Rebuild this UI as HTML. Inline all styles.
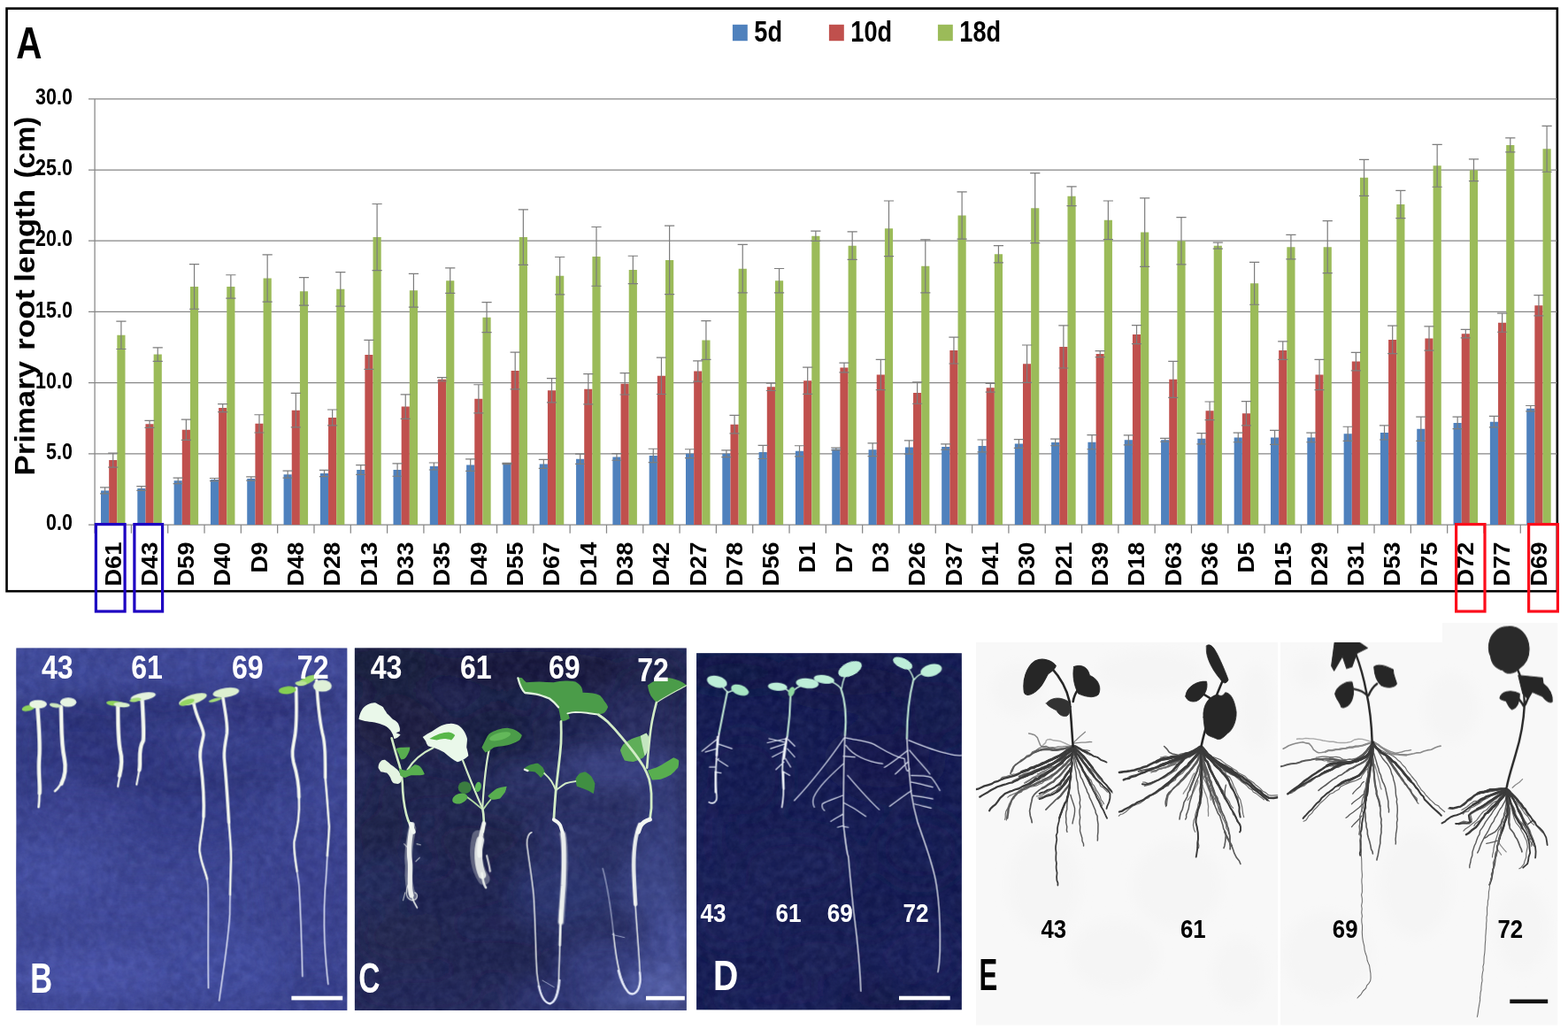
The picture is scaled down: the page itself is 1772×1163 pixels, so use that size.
<!DOCTYPE html>
<html lang="en"><head><meta charset="utf-8"><title>Figure</title>
<style>
html,body{margin:0;padding:0;background:#fff;}
body{width:1772px;height:1163px;overflow:hidden;font-family:"Liberation Sans",Arial,sans-serif;}
svg{display:block;}
</style></head>
<body>
<svg width="1772" height="1163" viewBox="0 0 1772 1163">
<rect width="1772" height="1163" fill="#fff"/>
<g id="chart" font-family="Liberation Sans, Arial, sans-serif" font-weight="bold">
<rect x="7.55" y="9.6" width="1752.3" height="658.6" fill="#fff" stroke="#000" stroke-width="2.6"/>
<path d="M100,593.10H1759.6M100,512.88H1759.6M100,432.67H1759.6M100,352.45H1759.6M100,272.23H1759.6M100,192.02H1759.6M100,111.80H1759.6M107.10,111.80V593.10M107.10,593.10v9.6M148.41,593.10v9.6M189.72,593.10v9.6M231.04,593.10v9.6M272.35,593.10v9.6M313.66,593.10v9.6M354.98,593.10v9.6M396.29,593.10v9.6M437.60,593.10v9.6M478.91,593.10v9.6M520.23,593.10v9.6M561.54,593.10v9.6M602.85,593.10v9.6M644.16,593.10v9.6M685.48,593.10v9.6M726.79,593.10v9.6M768.10,593.10v9.6M809.41,593.10v9.6M850.73,593.10v9.6M892.04,593.10v9.6M933.35,593.10v9.6M974.66,593.10v9.6M1015.98,593.10v9.6M1057.29,593.10v9.6M1098.60,593.10v9.6M1139.91,593.10v9.6M1181.22,593.10v9.6M1222.54,593.10v9.6M1263.85,593.10v9.6M1305.16,593.10v9.6M1346.47,593.10v9.6M1387.79,593.10v9.6M1429.10,593.10v9.6M1470.41,593.10v9.6M1511.72,593.10v9.6M1553.04,593.10v9.6M1594.35,593.10v9.6M1635.66,593.10v9.6M1676.97,593.10v9.6M1718.29,593.10v9.6" stroke="#878787" stroke-width="1.25" fill="none"/>
<path d="M114.00,593.10V554.44h9.17V593.10zM155.31,593.10V552.03h9.17V593.10zM196.62,593.10V543.37h9.17V593.10zM237.94,593.10V542.08h9.17V593.10zM279.25,593.10V540.96h9.17V593.10zM320.56,593.10V536.15h9.17V593.10zM361.88,593.10V535.02h9.17V593.10zM403.19,593.10V531.01h9.17V593.10zM444.50,593.10V531.01h9.17V593.10zM485.81,593.10V527.00h9.17V593.10zM527.12,593.10V525.56h9.17V593.10zM568.44,593.10V523.95h9.17V593.10zM609.75,593.10V524.43h9.17V593.10zM651.06,593.10V518.82h9.17V593.10zM692.38,593.10V516.41h9.17V593.10zM733.69,593.10V514.97h9.17V593.10zM775.00,593.10V512.72h9.17V593.10zM816.31,593.10V512.72h9.17V593.10zM857.62,593.10V510.96h9.17V593.10zM898.94,593.10V509.84h9.17V593.10zM940.25,593.10V507.43h9.17V593.10zM981.56,593.10V508.23h9.17V593.10zM1022.88,593.10V505.50h9.17V593.10zM1064.19,593.10V505.02h9.17V593.10zM1105.50,593.10V503.90h9.17V593.10zM1146.81,593.10V501.49h9.17V593.10zM1188.12,593.10V499.89h9.17V593.10zM1229.44,593.10V499.73h9.17V593.10zM1270.75,593.10V497.32h9.17V593.10zM1312.06,593.10V497.32h9.17V593.10zM1353.38,593.10V495.72h9.17V593.10zM1394.69,593.10V494.43h9.17V593.10zM1436.00,593.10V494.43h9.17V593.10zM1477.31,593.10V494.43h9.17V593.10zM1518.62,593.10V490.26h9.17V593.10zM1559.94,593.10V488.98h9.17V593.10zM1601.25,593.10V484.81h9.17V593.10zM1642.56,593.10V477.91h9.17V593.10zM1683.88,593.10V476.63h9.17V593.10zM1725.19,593.10V461.71h9.17V593.10z" fill="#4f81bd"/>
<path d="M123.17,593.10V520.10h9.17V593.10zM164.48,593.10V479.35h9.17V593.10zM205.79,593.10V485.77h9.17V593.10zM247.11,593.10V461.06h9.17V593.10zM288.42,593.10V478.87h9.17V593.10zM329.73,593.10V463.63h9.17V593.10zM371.05,593.10V471.97h9.17V593.10zM412.36,593.10V400.90h9.17V593.10zM453.67,593.10V459.62h9.17V593.10zM494.98,593.10V428.66h9.17V593.10zM536.29,593.10V450.80h9.17V593.10zM577.61,593.10V419.03h9.17V593.10zM618.92,593.10V441.33h9.17V593.10zM660.23,593.10V439.73h9.17V593.10zM701.54,593.10V433.79h9.17V593.10zM742.86,593.10V424.81h9.17V593.10zM784.17,593.10V419.51h9.17V593.10zM825.48,593.10V479.67h9.17V593.10zM866.79,593.10V437.32h9.17V593.10zM908.11,593.10V430.26h9.17V593.10zM949.42,593.10V415.50h9.17V593.10zM990.73,593.10V423.52h9.17V593.10zM1032.05,593.10V444.06h9.17V593.10zM1073.36,593.10V396.09h9.17V593.10zM1114.67,593.10V438.28h9.17V593.10zM1155.98,593.10V411.17h9.17V593.10zM1197.30,593.10V391.92h9.17V593.10zM1238.61,593.10V400.10h9.17V593.10zM1279.92,593.10V378.12h9.17V593.10zM1321.23,593.10V428.82h9.17V593.10zM1362.55,593.10V464.27h9.17V593.10zM1403.86,593.10V467.32h9.17V593.10zM1445.17,593.10V396.09h9.17V593.10zM1486.48,593.10V423.52h9.17V593.10zM1527.80,593.10V408.60h9.17V593.10zM1569.11,593.10V383.89h9.17V593.10zM1610.42,593.10V382.45h9.17V593.10zM1651.73,593.10V377.16h9.17V593.10zM1693.05,593.10V364.64h9.17V593.10zM1734.36,593.10V345.23h9.17V593.10z" fill="#c0504d"/>
<path d="M132.34,593.10V378.76h9.17V593.10zM173.65,593.10V400.58h9.17V593.10zM214.97,593.10V323.89h9.17V593.10zM256.28,593.10V323.89h9.17V593.10zM297.59,593.10V314.43h9.17V593.10zM338.90,593.10V329.35h9.17V593.10zM380.21,593.10V326.78h9.17V593.10zM421.53,593.10V268.06h9.17V593.10zM462.84,593.10V328.22h9.17V593.10zM504.15,593.10V317.15h9.17V593.10zM545.47,593.10V358.71h9.17V593.10zM586.78,593.10V268.06h9.17V593.10zM628.09,593.10V311.70h9.17V593.10zM669.40,593.10V289.88h9.17V593.10zM710.72,593.10V304.96h9.17V593.10zM752.03,593.10V293.89h9.17V593.10zM793.34,593.10V384.54h9.17V593.10zM834.65,593.10V303.68h9.17V593.10zM875.97,593.10V317.15h9.17V593.10zM917.28,593.10V266.78h9.17V593.10zM958.59,593.10V277.69h9.17V593.10zM999.90,593.10V258.28h9.17V593.10zM1041.21,593.10V300.79h9.17V593.10zM1082.53,593.10V243.52h9.17V593.10zM1123.84,593.10V287.15h9.17V593.10zM1165.15,593.10V235.17h9.17V593.10zM1206.46,593.10V221.70h9.17V593.10zM1247.78,593.10V248.81h9.17V593.10zM1289.09,593.10V262.61h9.17V593.10zM1330.40,593.10V272.23h9.17V593.10zM1371.71,593.10V277.69h9.17V593.10zM1413.03,593.10V320.36h9.17V593.10zM1454.34,593.10V279.13h9.17V593.10zM1495.65,593.10V279.13h9.17V593.10zM1536.96,593.10V200.84h9.17V593.10zM1578.28,593.10V231.00h9.17V593.10zM1619.59,593.10V187.36h9.17V593.10zM1660.90,593.10V192.18h9.17V593.10zM1702.21,593.10V163.94h9.17V593.10zM1743.53,593.10V168.27h9.17V593.10z" fill="#9bbb59"/>
<path d="M118.58,550.91V557.97M112.98,550.91h11.20M112.98,557.97h11.20M159.90,549.62V554.44M154.30,549.62h11.20M154.30,554.44h11.20M201.21,540.16V546.57M195.61,540.16h11.20M195.61,546.57h11.20M242.52,540.48V543.69M236.92,540.48h11.20M236.92,543.69h11.20M283.83,538.87V543.04M278.23,538.87h11.20M278.23,543.04h11.20M325.15,532.14V540.16M319.55,532.14h11.20M319.55,540.16h11.20M366.46,531.33V538.71M360.86,531.33h11.20M360.86,538.71h11.20M407.77,525.72V536.31M402.17,525.72h11.20M402.17,536.31h11.20M449.08,523.79V538.23M443.48,523.79h11.20M443.48,538.23h11.20M490.40,522.99V531.01M484.80,522.99h11.20M484.80,531.01h11.20M531.71,518.82V532.30M526.11,518.82h11.20M526.11,532.30h11.20M573.02,523.31V524.59M567.42,523.31h11.20M567.42,524.59h11.20M614.34,519.46V529.41M608.74,519.46h11.20M608.74,529.41h11.20M655.65,513.20V524.43M650.05,513.20h11.20M650.05,524.43h11.20M696.96,512.56V520.26M691.36,512.56h11.20M691.36,520.26h11.20M738.27,507.27V522.67M732.67,507.27h11.20M732.67,522.67h11.20M779.59,507.75V517.70M773.99,507.75h11.20M773.99,517.70h11.20M820.90,508.87V516.57M815.30,508.87h11.20M815.30,516.57h11.20M862.21,503.42V518.50M856.61,503.42h11.20M856.61,518.50h11.20M903.52,503.74V515.93M897.92,503.74h11.20M897.92,515.93h11.20M944.84,506.15V508.71M939.24,506.15h11.20M939.24,508.71h11.20M986.15,500.85V515.61M980.55,500.85h11.20M980.55,515.61h11.20M1027.46,497.80V513.20M1021.86,497.80h11.20M1021.86,513.20h11.20M1068.77,501.81V508.23M1063.17,501.81h11.20M1063.17,508.23h11.20M1110.09,497.00V510.80M1104.49,497.00h11.20M1104.49,510.80h11.20M1151.40,496.68V506.31M1145.80,496.68h11.20M1145.80,506.31h11.20M1192.71,496.04V503.74M1187.11,496.04h11.20M1187.11,503.74h11.20M1234.02,491.71V507.75M1228.42,491.71h11.20M1228.42,507.75h11.20M1275.34,491.87V502.78M1269.74,491.87h11.20M1269.74,502.78h11.20M1316.65,495.40V499.25M1311.05,495.40h11.20M1311.05,499.25h11.20M1357.96,489.62V501.81M1352.36,489.62h11.20M1352.36,501.81h11.20M1399.27,489.14V499.73M1393.67,489.14h11.20M1393.67,499.73h11.20M1440.59,486.41V502.46M1434.99,486.41h11.20M1434.99,502.46h11.20M1481.90,489.14V499.73M1476.30,489.14h11.20M1476.30,499.73h11.20M1523.21,482.24V498.28M1517.61,482.24h11.20M1517.61,498.28h11.20M1564.52,480.96V497.00M1558.92,480.96h11.20M1558.92,497.00h11.20M1605.84,471.17V498.44M1600.24,471.17h11.20M1600.24,498.44h11.20M1647.15,471.17V484.65M1641.55,471.17h11.20M1641.55,484.65h11.20M1688.46,470.37V482.88M1682.86,470.37h11.20M1682.86,482.88h11.20M1729.77,458.50V464.91M1724.17,458.50h11.20M1724.17,464.91h11.20M127.75,512.08V528.12M122.16,512.08h11.20M122.16,528.12h11.20M169.07,475.34V483.36M163.47,475.34h11.20M163.47,483.36h11.20M210.38,474.22V497.32M204.78,474.22h11.20M204.78,497.32h11.20M251.69,456.57V465.56M246.09,456.57h11.20M246.09,465.56h11.20M293.00,468.76V488.98M287.40,468.76h11.20M287.40,488.98h11.20M334.32,444.38V482.88M328.72,444.38h11.20M328.72,482.88h11.20M375.63,462.99V480.96M370.03,462.99h11.20M370.03,480.96h11.20M416.94,384.38V417.43M411.34,384.38h11.20M411.34,417.43h11.20M458.25,445.82V473.42M452.65,445.82h11.20M452.65,473.42h11.20M499.57,426.57V430.74M493.97,426.57h11.20M493.97,430.74h11.20M540.88,434.75V466.84M535.28,434.75h11.20M535.28,466.84h11.20M582.19,398.17V439.89M576.59,398.17h11.20M576.59,439.89h11.20M623.50,427.69V454.97M617.90,427.69h11.20M617.90,454.97h11.20M664.82,422.56V456.89M659.22,422.56h11.20M659.22,456.89h11.20M706.13,421.60V445.98M700.53,421.60h11.20M700.53,445.98h11.20M747.44,404.11V445.50M741.84,404.11h11.20M741.84,445.50h11.20M788.75,407.80V431.22M783.15,407.80h11.20M783.15,431.22h11.20M830.07,469.41V489.94M824.47,469.41h11.20M824.47,489.94h11.20M871.38,433.15V441.49M865.78,433.15h11.20M865.78,441.49h11.20M912.69,415.18V445.34M907.09,415.18h11.20M907.09,445.34h11.20M954.00,410.21V420.79M948.40,410.21h11.20M948.40,420.79h11.20M995.32,406.36V440.69M989.72,406.36h11.20M989.72,440.69h11.20M1036.63,431.86V456.25M1031.03,431.86h11.20M1031.03,456.25h11.20M1077.94,381.17V411.01M1072.34,381.17h11.20M1072.34,411.01h11.20M1119.26,433.47V443.09M1113.66,433.47h11.20M1113.66,443.09h11.20M1160.57,389.99V432.35M1154.97,389.99h11.20M1154.97,432.35h11.20M1201.88,367.85V415.98M1196.28,367.85h11.20M1196.28,415.98h11.20M1243.19,396.57V403.63M1237.59,396.57h11.20M1237.59,403.63h11.20M1284.51,367.69V388.55M1278.91,367.69h11.20M1278.91,388.55h11.20M1325.82,408.28V449.35M1320.22,408.28h11.20M1320.22,449.35h11.20M1367.13,454.00V474.54M1361.53,454.00h11.20M1361.53,474.54h11.20M1408.44,453.68V480.96M1402.84,453.68h11.20M1402.84,480.96h11.20M1449.76,385.82V406.36M1444.16,385.82h11.20M1444.16,406.36h11.20M1491.07,406.36V440.69M1485.47,406.36h11.20M1485.47,440.69h11.20M1532.38,398.33V418.87M1526.78,398.33h11.20M1526.78,418.87h11.20M1573.69,368.17V399.62M1568.09,368.17h11.20M1568.09,399.62h11.20M1615.01,368.81V396.09M1609.41,368.81h11.20M1609.41,396.09h11.20M1656.32,372.34V381.97M1650.72,372.34h11.20M1650.72,381.97h11.20M1697.63,354.05V375.23M1692.03,354.05h11.20M1692.03,375.23h11.20M1738.94,333.68V356.78M1733.34,333.68h11.20M1733.34,356.78h11.20M136.93,363.04V394.48M131.33,363.04h11.20M131.33,394.48h11.20M178.24,392.88V408.28M172.64,392.88h11.20M172.64,408.28h11.20M219.55,298.54V349.24M213.95,298.54h11.20M213.95,349.24h11.20M260.86,310.74V337.05M255.26,310.74h11.20M255.26,337.05h11.20M302.17,287.80V341.06M296.57,287.80h11.20M296.57,341.06h11.20M343.49,313.63V345.07M337.89,313.63h11.20M337.89,345.07h11.20M384.80,307.53V346.03M379.20,307.53h11.20M379.20,346.03h11.20M426.11,230.52V305.60M420.51,230.52h11.20M420.51,305.60h11.20M467.42,309.29V347.16M461.82,309.29h11.20M461.82,347.16h11.20M508.74,302.88V331.43M503.14,302.88h11.20M503.14,331.43h11.20M550.05,341.70V375.71M544.45,341.70h11.20M544.45,375.71h11.20M591.36,236.78V299.35M585.76,236.78h11.20M585.76,299.35h11.20M632.68,290.52V332.88M627.08,290.52h11.20M627.08,332.88h11.20M673.99,256.51V323.25M668.39,256.51h11.20M668.39,323.25h11.20M715.30,289.24V320.68M709.70,289.24h11.20M709.70,320.68h11.20M756.61,255.07V332.72M751.01,255.07h11.20M751.01,332.72h11.20M797.93,362.72V406.36M792.33,362.72h11.20M792.33,406.36h11.20M839.24,276.40V330.95M833.64,276.40h11.20M833.64,330.95h11.20M880.55,303.52V330.79M874.95,303.52h11.20M874.95,330.79h11.20M921.86,261.16V272.39M916.26,261.16h11.20M916.26,272.39h11.20M963.18,261.97V293.41M957.58,261.97h11.20M957.58,293.41h11.20M1004.49,226.99V289.56M998.89,226.99h11.20M998.89,289.56h11.20M1045.80,270.79V330.79M1040.20,270.79h11.20M1040.20,330.79h11.20M1087.11,216.88V270.15M1081.51,216.88h11.20M1081.51,270.15h11.20M1128.42,277.53V296.78M1122.83,277.53h11.20M1122.83,296.78h11.20M1169.74,195.71V274.64M1164.14,195.71h11.20M1164.14,274.64h11.20M1211.05,210.79V232.61M1205.45,210.79h11.20M1205.45,232.61h11.20M1252.36,226.99V270.63M1246.76,226.99h11.20M1246.76,270.63h11.20M1293.67,223.78V301.43M1288.08,223.78h11.20M1288.08,301.43h11.20M1334.99,245.60V298.87M1329.39,245.60h11.20M1329.39,298.87h11.20M1376.30,274.16V281.22M1370.70,274.16h11.20M1370.70,281.22h11.20M1417.61,296.46V344.27M1412.01,296.46h11.20M1412.01,344.27h11.20M1458.92,265.33V292.93M1453.33,265.33h11.20M1453.33,292.93h11.20M1500.24,249.61V308.65M1494.64,249.61h11.20M1494.64,308.65h11.20M1541.55,180.31V221.38M1535.95,180.31h11.20M1535.95,221.38h11.20M1582.86,215.28V246.72M1577.26,215.28h11.20M1577.26,246.72h11.20M1624.17,163.46V211.27M1618.58,163.46h11.20M1618.58,211.27h11.20M1665.49,179.82V204.53M1659.89,179.82h11.20M1659.89,204.53h11.20M1706.80,155.92V171.96M1701.20,155.92h11.20M1701.20,171.96h11.20M1748.11,142.28V194.26M1742.51,142.28h11.20M1742.51,194.26h11.20" stroke="#7d7d7d" stroke-width="1.2" fill="none"/>
<text transform="translate(81.90,599.20) scale(0.8600,1)" font-size="25.0" text-anchor="end" fill="#000" >0.0</text>
<text transform="translate(81.90,518.98) scale(0.8600,1)" font-size="25.0" text-anchor="end" fill="#000" >5.0</text>
<text transform="translate(81.90,438.77) scale(0.8600,1)" font-size="25.0" text-anchor="end" fill="#000" >10.0</text>
<text transform="translate(81.90,358.55) scale(0.8600,1)" font-size="25.0" text-anchor="end" fill="#000" >15.0</text>
<text transform="translate(81.90,278.33) scale(0.8600,1)" font-size="25.0" text-anchor="end" fill="#000" >20.0</text>
<text transform="translate(81.90,198.12) scale(0.8600,1)" font-size="25.0" text-anchor="end" fill="#000" >25.0</text>
<text transform="translate(81.90,117.90) scale(0.8600,1)" font-size="25.0" text-anchor="end" fill="#000" >30.0</text>
<text transform="translate(136.56,612.60) rotate(-90) scale(1.0900,1)" font-size="25.0" text-anchor="end" fill="#000" >D61</text>
<text transform="translate(177.87,612.60) rotate(-90) scale(1.0900,1)" font-size="25.0" text-anchor="end" fill="#000" >D43</text>
<text transform="translate(219.18,612.60) rotate(-90) scale(1.0900,1)" font-size="25.0" text-anchor="end" fill="#000" >D59</text>
<text transform="translate(260.49,612.60) rotate(-90) scale(1.0900,1)" font-size="25.0" text-anchor="end" fill="#000" >D40</text>
<text transform="translate(301.81,612.60) rotate(-90) scale(1.0900,1)" font-size="25.0" text-anchor="end" fill="#000" >D9</text>
<text transform="translate(343.12,612.60) rotate(-90) scale(1.0900,1)" font-size="25.0" text-anchor="end" fill="#000" >D48</text>
<text transform="translate(384.43,612.60) rotate(-90) scale(1.0900,1)" font-size="25.0" text-anchor="end" fill="#000" >D28</text>
<text transform="translate(425.74,612.60) rotate(-90) scale(1.0900,1)" font-size="25.0" text-anchor="end" fill="#000" >D13</text>
<text transform="translate(467.06,612.60) rotate(-90) scale(1.0900,1)" font-size="25.0" text-anchor="end" fill="#000" >D33</text>
<text transform="translate(508.37,612.60) rotate(-90) scale(1.0900,1)" font-size="25.0" text-anchor="end" fill="#000" >D35</text>
<text transform="translate(549.68,612.60) rotate(-90) scale(1.0900,1)" font-size="25.0" text-anchor="end" fill="#000" >D49</text>
<text transform="translate(590.99,612.60) rotate(-90) scale(1.0900,1)" font-size="25.0" text-anchor="end" fill="#000" >D55</text>
<text transform="translate(632.31,612.60) rotate(-90) scale(1.0900,1)" font-size="25.0" text-anchor="end" fill="#000" >D67</text>
<text transform="translate(673.62,612.60) rotate(-90) scale(1.0900,1)" font-size="25.0" text-anchor="end" fill="#000" >D14</text>
<text transform="translate(714.93,612.60) rotate(-90) scale(1.0900,1)" font-size="25.0" text-anchor="end" fill="#000" >D38</text>
<text transform="translate(756.24,612.60) rotate(-90) scale(1.0900,1)" font-size="25.0" text-anchor="end" fill="#000" >D42</text>
<text transform="translate(797.56,612.60) rotate(-90) scale(1.0900,1)" font-size="25.0" text-anchor="end" fill="#000" >D27</text>
<text transform="translate(838.87,612.60) rotate(-90) scale(1.0900,1)" font-size="25.0" text-anchor="end" fill="#000" >D78</text>
<text transform="translate(880.18,612.60) rotate(-90) scale(1.0900,1)" font-size="25.0" text-anchor="end" fill="#000" >D56</text>
<text transform="translate(921.49,612.60) rotate(-90) scale(1.0900,1)" font-size="25.0" text-anchor="end" fill="#000" >D1</text>
<text transform="translate(962.81,612.60) rotate(-90) scale(1.0900,1)" font-size="25.0" text-anchor="end" fill="#000" >D7</text>
<text transform="translate(1004.12,612.60) rotate(-90) scale(1.0900,1)" font-size="25.0" text-anchor="end" fill="#000" >D3</text>
<text transform="translate(1045.43,612.60) rotate(-90) scale(1.0900,1)" font-size="25.0" text-anchor="end" fill="#000" >D26</text>
<text transform="translate(1086.74,612.60) rotate(-90) scale(1.0900,1)" font-size="25.0" text-anchor="end" fill="#000" >D37</text>
<text transform="translate(1128.06,612.60) rotate(-90) scale(1.0900,1)" font-size="25.0" text-anchor="end" fill="#000" >D41</text>
<text transform="translate(1169.37,612.60) rotate(-90) scale(1.0900,1)" font-size="25.0" text-anchor="end" fill="#000" >D30</text>
<text transform="translate(1210.68,612.60) rotate(-90) scale(1.0900,1)" font-size="25.0" text-anchor="end" fill="#000" >D21</text>
<text transform="translate(1251.99,612.60) rotate(-90) scale(1.0900,1)" font-size="25.0" text-anchor="end" fill="#000" >D39</text>
<text transform="translate(1293.31,612.60) rotate(-90) scale(1.0900,1)" font-size="25.0" text-anchor="end" fill="#000" >D18</text>
<text transform="translate(1334.62,612.60) rotate(-90) scale(1.0900,1)" font-size="25.0" text-anchor="end" fill="#000" >D63</text>
<text transform="translate(1375.93,612.60) rotate(-90) scale(1.0900,1)" font-size="25.0" text-anchor="end" fill="#000" >D36</text>
<text transform="translate(1417.24,612.60) rotate(-90) scale(1.0900,1)" font-size="25.0" text-anchor="end" fill="#000" >D5</text>
<text transform="translate(1458.56,612.60) rotate(-90) scale(1.0900,1)" font-size="25.0" text-anchor="end" fill="#000" >D15</text>
<text transform="translate(1499.87,612.60) rotate(-90) scale(1.0900,1)" font-size="25.0" text-anchor="end" fill="#000" >D29</text>
<text transform="translate(1541.18,612.60) rotate(-90) scale(1.0900,1)" font-size="25.0" text-anchor="end" fill="#000" >D31</text>
<text transform="translate(1582.49,612.60) rotate(-90) scale(1.0900,1)" font-size="25.0" text-anchor="end" fill="#000" >D53</text>
<text transform="translate(1623.81,612.60) rotate(-90) scale(1.0900,1)" font-size="25.0" text-anchor="end" fill="#000" >D75</text>
<text transform="translate(1665.12,612.60) rotate(-90) scale(1.0900,1)" font-size="25.0" text-anchor="end" fill="#000" >D72</text>
<text transform="translate(1706.43,612.60) rotate(-90) scale(1.0900,1)" font-size="25.0" text-anchor="end" fill="#000" >D77</text>
<text transform="translate(1747.74,612.60) rotate(-90) scale(1.0900,1)" font-size="25.0" text-anchor="end" fill="#000" >D69</text>
<text transform="translate(38.8,535.1) rotate(-90)" font-size="31.5"><tspan x="-2.3" textLength="129.4" lengthAdjust="spacingAndGlyphs">Primary</tspan> <tspan x="139.0" textLength="68.8" lengthAdjust="spacingAndGlyphs">root</tspan> <tspan x="216.4" textLength="104.8" lengthAdjust="spacingAndGlyphs">length</tspan> <tspan x="333.6" textLength="69.8" lengthAdjust="spacingAndGlyphs">(cm)</tspan></text>
<text transform="translate(18.20,66.00) scale(0.8110,1)" font-size="49.9" text-anchor="start" fill="#000" >A</text>
<rect x="827.9" y="27.8" width="16.9" height="18.4" fill="#4f81bd"/>
<text transform="translate(852.30,46.60) scale(0.8300,1)" font-size="32.7" text-anchor="start" fill="#000" >5d</text>
<rect x="936.9" y="27.8" width="16.9" height="18.4" fill="#c0504d"/>
<text transform="translate(961.30,46.60) scale(0.8300,1)" font-size="32.7" text-anchor="start" fill="#000" >10d</text>
<rect x="1059.9" y="27.8" width="16.9" height="18.4" fill="#9bbb59"/>
<text transform="translate(1084.30,46.60) scale(0.8300,1)" font-size="32.7" text-anchor="start" fill="#000" >18d</text>
</g>
<rect x="108.4" y="592.6" width="32.7" height="98.4" fill="none" stroke="#1d00c2" stroke-width="3.2"/>
<rect x="151.9" y="592.6" width="31.7" height="98.4" fill="none" stroke="#1d00c2" stroke-width="3.2"/>
<rect x="1645.6" y="592.6" width="32.4" height="98.4" fill="none" stroke="#fc0d1b" stroke-width="3.2"/>
<rect x="1727.6" y="592.6" width="32.8" height="98.4" fill="none" stroke="#fc0d1b" stroke-width="3.2"/>
<defs>
<filter id="b1" x="-10%" y="-10%" width="120%" height="120%"><feGaussianBlur stdDeviation="0.7"/></filter>
<filter id="b2" x="-10%" y="-10%" width="120%" height="120%"><feGaussianBlur stdDeviation="1.6"/></filter>
<filter id="bz" x="-10%" y="-10%" width="120%" height="120%"><feGaussianBlur stdDeviation="3"/></filter>
<filter id="bz5" x="-10%" y="-10%" width="120%" height="120%"><feGaussianBlur stdDeviation="5"/></filter>
<filter id="bz4" x="-10%" y="-10%" width="120%" height="120%"><feGaussianBlur stdDeviation="4.2"/></filter>
<filter id="nz" x="0" y="0" width="100%" height="100%" color-interpolation-filters="sRGB"><feTurbulence type="fractalNoise" baseFrequency="0.11" numOctaves="3" seed="7" result="t"/><feColorMatrix type="matrix" values="0 0 0 0 0.75  0 0 0 0 0.8  0 0 0 0 1  1.2 1.2 1.2 0 -1.3"/></filter>
<filter id="nzd" x="0" y="0" width="100%" height="100%" color-interpolation-filters="sRGB"><feTurbulence type="fractalNoise" baseFrequency="0.09" numOctaves="3" seed="23" result="t"/><feColorMatrix type="matrix" values="0 0 0 0 0  0 0 0 0 0  0 0 0 0 0.12  1.2 1.2 1.2 0 -1.3"/></filter>
<filter id="bL" x="-30%" y="-30%" width="160%" height="160%"><feGaussianBlur stdDeviation="14"/></filter>
<filter id="bM" x="-30%" y="-30%" width="160%" height="160%"><feGaussianBlur stdDeviation="7"/></filter>
<clipPath id="cB"><rect x="18.4" y="732.4" width="373.9" height="409.5"/></clipPath>
<clipPath id="cC"><rect x="400.9" y="732.4" width="374.9" height="409.5"/></clipPath>
<clipPath id="cD"><rect x="787.1" y="738.2" width="299.7" height="403.0"/></clipPath>
<clipPath id="cE"><path d="M1102.9,726H1444.2V1158.4H1102.9zM1447,726H1630V704H1760.3V1158.4H1447z"/></clipPath>
</defs>
<g clip-path="url(#cB)">
<rect x="18" y="732" width="375" height="411" fill="#3d4696"/>
<g filter="url(#bL)">
<ellipse cx="60" cy="755" rx="60" ry="26" fill="#414b9e"/>
<ellipse cx="200" cy="758" rx="80" ry="26" fill="#404a9c"/>
<ellipse cx="330" cy="758" rx="70" ry="30" fill="#424c9f"/>
<ellipse cx="90" cy="810" rx="60" ry="22" fill="#2a3078"/>
<ellipse cx="190" cy="800" rx="60" ry="20" fill="#2b3179"/>
<ellipse cx="290" cy="800" rx="60" ry="20" fill="#2d337c"/>
<ellipse cx="360" cy="790" rx="30" ry="20" fill="#30377f"/>
<ellipse cx="120" cy="850" rx="90" ry="24" fill="#2f3680"/>
<ellipse cx="300" cy="860" rx="60" ry="30" fill="#343c8a"/>
<ellipse cx="100" cy="910" rx="80" ry="25" fill="#3c4596"/>
<ellipse cx="220" cy="930" rx="80" ry="30" fill="#363e8c"/>
<ellipse cx="60" cy="990" rx="60" ry="40" fill="#444fa4"/>
<ellipse cx="160" cy="1030" rx="90" ry="30" fill="#3f4a9c"/>
<ellipse cx="100" cy="1100" rx="100" ry="30" fill="#4853aa"/>
<ellipse cx="250" cy="1090" rx="70" ry="40" fill="#434ea2"/>
<ellipse cx="350" cy="1000" rx="50" ry="80" fill="#3a4392"/>
<ellipse cx="360" cy="1120" rx="40" ry="20" fill="#363e8a"/>
<ellipse cx="200" cy="885" rx="120" ry="14" fill="#2c3278"/>
<ellipse cx="40" cy="850" rx="30" ry="60" fill="#323a86"/>
</g>
<rect x="18" y="732" width="375" height="411" filter="url(#nz)" opacity="0.07"/>
<rect x="18" y="732" width="375" height="411" filter="url(#nzd)" opacity="0.10"/>
<g transform="translate(10,725) scale(0.220090)" fill="none" stroke-linecap="round" stroke-linejoin="round" filter="url(#bz)">
<path d="M148,345 C 155,450 163,540 156,600 C 150,680 165,760 153,850" stroke="#f3f7ee" stroke-width="12"/>
<path d="M148,345 C 155,450 163,540 156,600 C 150,680 162,730 158,780" stroke="#f3f7ee" stroke-width="20"/>
<path d="M268,335 C 272,450 268,520 285,600 C 300,680 270,740 237,768" stroke="#f3f7ee" stroke-width="12"/>
<path d="M268,335 C 272,450 268,520 285,600 C 295,650 285,700 270,730" stroke="#f3f7ee" stroke-width="20"/>
<path d="M560,335 C 562,450 560,500 572,560 C 590,620 570,680 560,745" stroke="#f3f7ee" stroke-width="10"/>
<path d="M560,335 C 562,450 560,500 572,560 C 586,610 578,650 568,690" stroke="#f3f7ee" stroke-width="20"/>
<path d="M685,300 C 690,400 695,470 690,510 C 660,560 680,620 670,660 L 656,735" stroke="#f3f7ee" stroke-width="10"/>
<path d="M685,300 C 690,400 695,470 690,510 C 660,560 680,620 670,660" stroke="#f3f7ee" stroke-width="20"/>
<path d="M950,320 C 965,400 1000,440 1000,480 C 990,540 975,560 985,620 C 995,700 1005,800 1000,900 C 990,1000 975,1050 980,1080 C 990,1150 1020,1200 1022,1250 C 1028,1350 1020,1500 1025,1780" stroke="#dfe4f6" stroke-width="7"/>
<path d="M950,320 C 965,400 1000,440 1000,480 C 990,540 975,560 985,620 C 995,700 1005,800 1000,900" stroke="#f3f7ee" stroke-width="16"/>
<path d="M1100,290 C 1110,360 1125,420 1120,470 C 1110,540 1100,560 1108,620 C 1120,750 1125,850 1130,930 C 1135,1000 1145,1080 1140,1150 C 1138,1250 1135,1330 1135,1400 C 1125,1550 1100,1700 1080,1845" stroke="#dfe4f6" stroke-width="7"/>
<path d="M1100,290 C 1110,360 1125,420 1120,470 C 1110,540 1100,560 1108,620 C 1120,750 1125,850 1130,930" stroke="#f3f7ee" stroke-width="16"/>
<path d="M1475,240 C 1478,330 1478,420 1470,480 C 1460,540 1450,570 1462,620 C 1480,680 1490,740 1490,800 C 1495,900 1480,960 1465,1030 C 1462,1100 1485,1200 1490,1250 C 1500,1400 1505,1600 1508,1720" stroke="#dfe4f6" stroke-width="7"/>
<path d="M1475,240 C 1478,330 1478,420 1470,480 C 1460,540 1450,570 1462,620 C 1480,680 1490,740 1490,800" stroke="#f3f7ee" stroke-width="17"/>
<path d="M1580,200 C 1585,300 1595,400 1610,470 C 1625,520 1625,600 1625,700 C 1635,800 1640,900 1645,950 C 1640,1050 1635,1100 1630,1200 C 1620,1300 1618,1450 1622,1550 C 1628,1650 1635,1720 1640,1760" stroke="#dfe4f6" stroke-width="7"/>
<path d="M1580,200 C 1585,300 1595,400 1610,470 C 1625,520 1625,600 1625,700" stroke="#f3f7ee" stroke-width="16"/>
<path d="M1000,900 C 990,1000 975,1050 980,1080 C 990,1150 1010,1180 1018,1220" stroke="#f3f7ee" stroke-width="11"/>
<path d="M1130,930 C 1135,1000 1145,1080 1140,1150 C 1139,1200 1137,1250 1136,1300" stroke="#f3f7ee" stroke-width="11"/>
<path d="M1490,800 C 1495,900 1480,960 1465,1030 C 1463,1080 1472,1130 1480,1180" stroke="#f3f7ee" stroke-width="11"/>
<path d="M1625,700 C 1635,800 1640,900 1645,950 C 1642,1020 1638,1060 1635,1100" stroke="#f3f7ee" stroke-width="11"/>
<ellipse cx="100" cy="342" rx="34" ry="15" transform="rotate(-12 100 342)" fill="#8fd35c" stroke="none"/>
<ellipse cx="150" cy="322" rx="45" ry="22" transform="rotate(0 150 322)" fill="#e9f5e2" stroke="none"/>
<ellipse cx="238" cy="328" rx="30" ry="11" transform="rotate(10 238 328)" fill="#cfe9bf" stroke="none"/>
<ellipse cx="305" cy="312" rx="42" ry="24" transform="rotate(0 305 312)" fill="#e6f3e2" stroke="none"/>
<ellipse cx="545" cy="318" rx="45" ry="13" transform="rotate(5 545 318)" fill="#8fd35c" stroke="none"/>
<ellipse cx="580" cy="325" rx="42" ry="13" transform="rotate(5 580 325)" fill="#d8efcc" stroke="none"/>
<ellipse cx="690" cy="283" rx="65" ry="20" transform="rotate(-10 690 283)" fill="#e4f2de" stroke="none"/>
<ellipse cx="650" cy="300" rx="30" ry="10" transform="rotate(-10 650 300)" fill="#a5dc7a" stroke="none"/>
<ellipse cx="945" cy="297" rx="75" ry="24" transform="rotate(-18 945 297)" fill="#d8f0c4" stroke="none"/>
<ellipse cx="915" cy="312" rx="40" ry="14" transform="rotate(-18 915 312)" fill="#94d662" stroke="none"/>
<ellipse cx="1115" cy="262" rx="68" ry="24" transform="rotate(-8 1115 262)" fill="#dcf0d0" stroke="none"/>
<ellipse cx="1060" cy="300" rx="35" ry="8" transform="rotate(-15 1060 300)" fill="#a5dc7a" stroke="none"/>
<ellipse cx="1430" cy="250" rx="45" ry="20" transform="rotate(-5 1430 250)" fill="#86cf52" stroke="none"/>
<ellipse cx="1530" cy="200" rx="55" ry="18" transform="rotate(-25 1530 200)" fill="#98d868" stroke="none"/>
<ellipse cx="1610" cy="228" rx="48" ry="30" transform="rotate(0 1610 228)" fill="#dff0d8" stroke="none"/>
<ellipse cx="1500" cy="215" rx="30" ry="12" transform="rotate(0 1500 215)" fill="#b8e296" stroke="none"/>
</g>
<text transform="translate(47.00,767.10) scale(0.8660,1)" font-size="37.1" text-anchor="start" fill="#fff" font-family="Liberation Sans, Arial, sans-serif" font-weight="bold" >43</text>
<text transform="translate(148.20,767.10) scale(0.8660,1)" font-size="37.1" text-anchor="start" fill="#fff" font-family="Liberation Sans, Arial, sans-serif" font-weight="bold" >61</text>
<text transform="translate(262.00,767.10) scale(0.8660,1)" font-size="37.1" text-anchor="start" fill="#fff" font-family="Liberation Sans, Arial, sans-serif" font-weight="bold" >69</text>
<text transform="translate(335.80,767.10) scale(0.8660,1)" font-size="37.1" text-anchor="start" fill="#fff" font-family="Liberation Sans, Arial, sans-serif" font-weight="bold" >72</text>
<text transform="translate(34.30,1121.50) scale(0.7110,1)" font-size="48.5" text-anchor="start" fill="#fff" font-family="Liberation Sans, Arial, sans-serif" font-weight="bold" >B</text>
<rect x="329.4" y="1125.7" width="57.8" height="4.7" fill="#fff"/>
</g>
<g clip-path="url(#cC)">
<rect x="400" y="732" width="377" height="411" fill="#232858"/>
<g filter="url(#bL)">
<ellipse cx="440" cy="750" rx="70" ry="30" fill="#171a3a"/>
<ellipse cx="600" cy="755" rx="120" ry="28" fill="#15183a"/>
<ellipse cx="740" cy="770" rx="40" ry="30" fill="#1c2048"/>
<ellipse cx="450" cy="820" rx="60" ry="40" fill="#1a1d40"/>
<ellipse cx="560" cy="830" rx="50" ry="40" fill="#191c40"/>
<ellipse cx="640" cy="820" rx="40" ry="40" fill="#1e2250"/>
<ellipse cx="720" cy="810" rx="40" ry="30" fill="#262c5e"/>
<ellipse cx="700" cy="870" rx="80" ry="25" fill="#3a4284"/>
<ellipse cx="600" cy="880" rx="50" ry="20" fill="#2c3268"/>
<ellipse cx="480" cy="890" rx="70" ry="25" fill="#1f234c"/>
<ellipse cx="430" cy="940" rx="40" ry="30" fill="#1c2048"/>
<ellipse cx="540" cy="950" rx="60" ry="30" fill="#1d214a"/>
<ellipse cx="660" cy="940" rx="60" ry="30" fill="#2a306a"/>
<ellipse cx="750" cy="930" rx="30" ry="40" fill="#343c7e"/>
<ellipse cx="430" cy="1000" rx="50" ry="30" fill="#242a5c"/>
<ellipse cx="520" cy="1010" rx="70" ry="30" fill="#1e2450"/>
<ellipse cx="640" cy="1010" rx="60" ry="40" fill="#2c346f"/>
<ellipse cx="740" cy="1000" rx="40" ry="50" fill="#3a4488"/>
<ellipse cx="460" cy="1060" rx="60" ry="30" fill="#20264f"/>
<ellipse cx="560" cy="1080" rx="70" ry="30" fill="#1f2450"/>
<ellipse cx="690" cy="1090" rx="60" ry="30" fill="#343e80"/>
<ellipse cx="470" cy="1125" rx="80" ry="20" fill="#222858"/>
<ellipse cx="640" cy="1130" rx="70" ry="20" fill="#2e3674"/>
<ellipse cx="760" cy="1060" rx="30" ry="40" fill="#44509a"/>
<ellipse cx="750" cy="1120" rx="45" ry="25" fill="#5662ac"/>
<ellipse cx="700" cy="1135" rx="40" ry="12" fill="#4a56a0"/>
</g>
<rect x="400" y="732" width="377" height="411" filter="url(#nz)" opacity="0.07"/>
<rect x="400" y="732" width="377" height="411" filter="url(#nzd)" opacity="0.10"/>
<g transform="translate(400,780) scale(0.137590)" fill="none" stroke-linecap="round" stroke-linejoin="round" filter="url(#bz5)">
<path d="M310,395 C 330,470 355,560 375,620 C 390,670 396,720 398,760 C 400,850 410,940 430,1020 C 440,1060 450,1085 462,1105" stroke="#d2ecc6" stroke-width="19"/>
<path d="M440,655 C 480,590 540,525 650,475" stroke="#d2ecc6" stroke-width="16"/>
<path d="M895,580 C 940,700 990,820 1050,960" stroke="#d2ecc6" stroke-width="16"/>
<path d="M1112,480 C 1085,600 1068,760 1056,960" stroke="#d2ecc6" stroke-width="16"/>
<path d="M930,880 C 980,915 1020,950 1050,975" stroke="#b4dca4" stroke-width="13"/>
<path d="M1122,900 C 1095,930 1075,960 1060,982" stroke="#b4dca4" stroke-width="13"/>
<path d="M1055,965 C 1068,1030 1072,1090 1060,1165" stroke="#d2ecc6" stroke-width="19"/>
<path d="M465,1100 L 490,1165" stroke="#f2f6f2" stroke-width="34"/>
<path d="M40,240 C 45,190 70,140 110,120 C 140,105 165,100 180,105 C 200,120 225,125 240,140 C 250,165 265,175 270,190 C 290,205 305,225 320,240 C 345,250 365,270 370,290 C 378,310 380,325 375,340 L 345,350 L 382,365 C 370,385 350,395 330,400 C 325,375 315,350 300,330 C 285,310 270,300 250,290 C 225,280 200,270 170,265 C 140,262 110,258 90,255 Z" fill="#eaf8ea" stroke="none"/>
<path d="M200,640 C 200,615 205,600 215,590 C 225,575 240,570 255,572 C 275,585 290,600 300,610 C 315,620 330,630 340,640 C 360,655 375,670 380,690 C 388,710 392,725 390,740 C 385,760 375,768 360,770 C 345,770 330,768 320,760 C 310,748 305,735 300,720 C 292,705 282,690 270,680 C 250,675 235,672 220,670 Z" fill="#e4f4e2" stroke="none"/>
<path d="M345,480 C 365,472 380,470 400,470 L 460,468 C 460,485 455,500 450,510 C 442,530 432,548 420,560 C 410,568 400,570 390,570 C 380,558 374,545 370,530 Z" fill="#58ae50" stroke="none"/>
<path d="M370,640 C 390,652 410,660 430,660 C 455,645 480,625 500,612 C 520,612 535,620 545,630 C 562,650 574,670 580,690 C 565,698 548,700 530,700 L 470,700 C 452,705 435,712 420,720 C 405,716 390,710 380,700 Z" fill="#58ae50" stroke="none"/>
<path d="M565,385 C 590,368 615,352 640,340 C 665,322 690,305 720,290 C 750,280 775,275 800,275 C 822,278 842,282 860,290 C 876,300 890,314 900,330 C 915,352 925,375 930,400 C 930,425 926,448 925,470 C 932,495 938,518 940,540 C 928,552 915,562 900,570 C 884,578 868,586 850,590 C 832,582 815,572 800,560 C 780,545 760,528 740,510 C 715,496 688,484 660,475 C 642,470 625,465 610,460 C 600,448 594,435 590,420 Z" fill="#eaf8ea" stroke="none"/>
<path d="M620,400 C 645,385 672,370 700,360 C 728,350 755,345 780,345 C 800,350 818,358 830,370 C 822,385 812,400 800,410 C 780,405 760,400 740,400 C 720,402 700,406 680,410 Z" fill="#58b848" stroke="none"/>
<path d="M1085,400 C 1092,385 1100,372 1110,360 C 1132,345 1155,333 1180,325 C 1208,316 1235,311 1260,310 C 1285,313 1310,320 1330,330 C 1350,342 1367,355 1380,370 C 1375,385 1368,398 1360,410 C 1342,422 1322,432 1300,440 C 1275,450 1248,456 1220,460 C 1195,462 1172,465 1150,470 C 1135,480 1122,490 1110,500 L 1080,512 C 1068,500 1058,486 1050,470 C 1062,445 1074,422 1085,400 Z" fill="#4c9c48" stroke="none"/>
<path d="M1100,870 C 1120,848 1144,828 1170,810 C 1198,800 1228,793 1255,790 C 1252,808 1247,825 1240,840 C 1228,858 1215,875 1200,890 C 1178,896 1154,900 1130,900 Z" fill="#58ae50" stroke="none"/>
<ellipse cx="910" cy="800" rx="55" ry="50" transform="rotate(0 910 800)" fill="#3a7c40" stroke="none"/>
<ellipse cx="870" cy="890" rx="65" ry="40" transform="rotate(-20 870 890)" fill="#58ae50" stroke="none"/>
<ellipse cx="1020" cy="795" rx="25" ry="42" transform="rotate(10 1020 795)" fill="#5cb858" stroke="none"/>
<ellipse cx="1200" cy="380" rx="90" ry="30" transform="rotate(-15 1200 380)" fill="#63b85a" stroke="none"/>
</g>
<g transform="translate(585,750) scale(0.163319)" fill="none" stroke-linecap="round" stroke-linejoin="round" filter="url(#bz4)">
<path d="M0,95 L 30,100 C 40,112 50,122 60,130 C 90,128 120,126 150,125 C 185,128 218,130 250,130 C 278,125 305,121 330,120 C 355,120 378,121 400,125 C 416,135 430,146 440,160 C 446,173 450,186 450,200 C 475,200 498,202 520,205 C 538,208 555,213 570,220 C 582,232 592,245 600,260 C 610,272 620,285 625,300 C 620,315 612,328 600,340 C 588,346 575,350 560,350 C 535,348 508,344 480,340 C 452,336 425,335 400,335 C 382,337 365,340 350,345 L 360,380 L 330,395 L 300,400 C 295,365 288,330 280,300 C 262,278 242,258 220,240 C 192,228 162,218 130,210 C 102,206 75,202 50,200 C 38,184 28,167 20,150 Z" fill="#4c9c48" stroke="none"/>
<path d="M900,150 C 915,138 932,128 950,120 C 982,110 1016,103 1050,100 C 1075,104 1098,110 1120,120 C 1138,128 1155,138 1170,150 C 1148,165 1125,178 1100,190 C 1072,203 1045,216 1020,230 C 1000,243 980,256 960,270 C 945,255 932,238 920,220 C 910,198 903,175 900,150 Z" fill="#4c9c48" stroke="none"/>
<path d="M45,725 C 58,715 74,706 90,700 C 107,694 124,690 140,690 C 153,698 165,708 175,720 C 182,733 187,746 190,760 L 160,790 C 148,775 135,762 120,750 C 107,747 94,745 80,745 Z" fill="#3f8f42" stroke="none"/>
<path d="M400,800 C 408,785 418,771 430,760 C 443,754 456,750 470,750 C 485,758 498,768 510,780 C 520,796 529,813 535,830 C 533,855 530,878 525,900 L 490,880 C 474,872 457,865 440,860 L 410,850 C 405,834 402,817 400,800 Z" fill="#3f8f42" stroke="none"/>
<path d="M710,600 C 715,585 722,572 730,560 C 748,545 768,531 790,520 C 810,512 830,505 850,500 L 890,480 C 900,492 907,505 910,520 C 909,548 906,575 900,600 C 892,618 882,635 870,650 C 848,662 825,672 800,680 C 780,678 760,675 740,670 C 728,648 718,625 710,600 Z" fill="#5fae58" stroke="none"/>
<path d="M850,500 L 890,480 C 900,492 907,505 910,520 C 909,548 906,575 900,600 C 895,615 888,630 880,640 C 870,600 858,550 850,500 Z" fill="#c4e6c0" stroke="none"/>
<path d="M900,740 C 920,732 940,725 960,720 C 985,708 1008,694 1030,680 C 1048,669 1064,658 1080,650 C 1094,655 1106,662 1115,670 C 1116,688 1114,705 1110,720 C 1095,738 1078,755 1060,770 C 1038,782 1015,792 990,800 C 970,803 950,805 930,805 C 918,785 908,763 900,740 Z" fill="#58ae50" stroke="none"/>
<path d="M2,100 C 15,150 30,185 50,202 C 80,205 105,208 130,212 C 165,220 195,232 220,242 C 245,260 265,280 282,302" stroke="#dff2dc" stroke-width="14"/>
<path d="M345,345 C 365,340 382,337 400,336 C 430,336 455,338 480,341 C 510,345 535,350 560,353 C 580,365 595,378 612,392" stroke="#e4f4e0" stroke-width="12"/>
<path d="M300,400 C 302,450 302,500 300,550 C 296,600 291,650 285,700 C 278,758 271,815 265,870 C 261,915 258,958 255,1000 L 250,1080" stroke="#d2ecc6" stroke-width="17"/>
<path d="M185,760 C 205,778 220,795 232,812 C 244,832 254,852 262,872" stroke="#d2ecc6" stroke-width="12"/>
<path d="M265,875 C 290,858 310,843 330,830 C 355,822 378,818 400,815" stroke="#d2ecc6" stroke-width="12"/>
<path d="M960,270 C 948,315 938,358 930,400 C 921,450 915,500 910,550 C 904,608 899,665 895,720" stroke="#d2ecc6" stroke-width="16"/>
<path d="M1170,150 C 1100,190 1020,230 962,270" stroke="#cfeac4" stroke-width="7"/>
<path d="M560,355 C 580,368 600,383 620,400 C 655,435 688,472 720,510 C 748,543 775,577 800,610 C 825,642 848,676 870,710 C 886,740 900,770 910,800 C 918,833 923,867 925,900 L 925,1000 L 915,1080" stroke="#d2ecc6" stroke-width="17"/>
<path d="M250,1080 C 270,1090 285,1100 295,1120 L 310,1165" stroke="#f2f6f2" stroke-width="24"/>
<path d="M915,1078 C 890,1085 865,1100 850,1125 L 835,1165" stroke="#f2f6f2" stroke-width="30"/>
<path d="M48,733 L 70,742" stroke="#eaf6e8" stroke-width="14"/>
</g>
<g transform="translate(395,725) scale(0.220090)" fill="none" stroke-linecap="round" stroke-linejoin="round" filter="url(#bz)">
<path d="M322,940 C 310,1000 302,1080 310,1130 C 315,1200 302,1260 318,1305" stroke="#f2f6f2" stroke-width="24" opacity="0.95"/>
<path d="M322,960 C 305,1040 298,1100 305,1150 C 300,1220 305,1270 325,1310" stroke="#f2f6f2" stroke-width="40" opacity="0.35"/>
<path d="M318,1300 C 325,1330 335,1350 347,1368" stroke="#f2f6f2" stroke-width="8" opacity="0.9"/>
<path d="M300,1250 C 285,1290 290,1320 320,1330 C 350,1330 355,1300 335,1290" stroke="#f2f6f2" stroke-width="6" opacity="0.8"/>
<path d="M280,1040 L 300,1060 M345,1040 L 365,1045 M340,1130 L 360,1110 M285,1290 L 275,1330" stroke="#f2f6f2" stroke-width="5" opacity="0.7"/>
<path d="M690,935 C 676,990 662,1040 668,1100" stroke="#f2f6f2" stroke-width="22" opacity="0.95"/>
<path d="M672,1020 C 655,1080 660,1150 682,1200" stroke="#f2f6f2" stroke-width="40" opacity="0.85"/>
<path d="M660,1000 C 640,1080 650,1160 690,1220" stroke="#f2f6f2" stroke-width="62" opacity="0.3"/>
<path d="M680,1190 C 685,1230 690,1250 700,1264" stroke="#f2f6f2" stroke-width="12" opacity="0.9"/>
<path d="M705,1100 C 712,1130 718,1150 722,1180" stroke="#f2f6f2" stroke-width="10" opacity="0.8"/>
<path d="M1095,990 C 1105,1060 1102,1150 1098,1250 C 1092,1330 1088,1380 1085,1440" stroke="#f2f6f2" stroke-width="24" opacity="0.95"/>
<path d="M1095,990 C 1108,1060 1106,1150 1100,1250 C 1094,1330 1090,1380 1086,1440" stroke="#f2f6f2" stroke-width="36" opacity="0.3"/>
<path d="M1085,1420 C 1080,1500 1080,1600 1075,1700 C 1075,1780 1060,1850 1030,1860 C 990,1855 970,1780 962,1700 C 955,1600 955,1450 945,1300 C 935,1200 920,1120 912,1050 C 908,1010 920,985 935,980" stroke="#f2f6f2" stroke-width="7" opacity="0.95"/>
<path d="M1085,1380 C 1083,1450 1082,1500 1080,1560" stroke="#f2f6f2" stroke-width="13" opacity="0.9"/>
<path d="M1490,940 C 1465,1000 1455,1080 1460,1200 C 1462,1250 1465,1300 1468,1350" stroke="#f2f6f2" stroke-width="20" opacity="0.95"/>
<path d="M1466,1330 C 1470,1400 1478,1500 1485,1600 C 1490,1680 1495,1720 1490,1760 C 1480,1810 1450,1820 1430,1800 C 1390,1750 1370,1650 1355,1500" stroke="#f2f6f2" stroke-width="7" opacity="0.95"/>
<path d="M1355,1500 C 1345,1400 1330,1280 1300,1165" stroke="#cfd6ee" stroke-width="5" opacity="0.8"/>
<path d="M1490,1700 C 1495,1730 1495,1745 1490,1760 C 1480,1810 1450,1820 1430,1800 C 1405,1770 1390,1730 1380,1690" stroke="#e4e9fa" stroke-width="11" opacity="0.95"/>
<path d="M1078,1740 C 1074,1800 1060,1850 1030,1860 C 1000,1856 982,1820 972,1770" stroke="#e4e9fa" stroke-width="11" opacity="0.95"/>
<path d="M1350,1505 L1412,1520" stroke="#c8d0e8" stroke-width="4" opacity="0.8"/>
<path d="M990,1740 L1050,1775" stroke="#c8d0e8" stroke-width="4" opacity="0.8"/>
</g>
<text transform="translate(418.70,767.10) scale(0.8660,1)" font-size="37.1" text-anchor="start" fill="#fff" font-family="Liberation Sans, Arial, sans-serif" font-weight="bold" >43</text>
<text transform="translate(519.90,767.10) scale(0.8660,1)" font-size="37.1" text-anchor="start" fill="#fff" font-family="Liberation Sans, Arial, sans-serif" font-weight="bold" >61</text>
<text transform="translate(619.90,767.10) scale(0.8660,1)" font-size="37.1" text-anchor="start" fill="#fff" font-family="Liberation Sans, Arial, sans-serif" font-weight="bold" >69</text>
<text transform="translate(720.20,769.50) scale(0.8660,1)" font-size="37.1" text-anchor="start" fill="#fff" font-family="Liberation Sans, Arial, sans-serif" font-weight="bold" >72</text>
<text transform="translate(405.30,1121.90) scale(0.6850,1)" font-size="49.0" text-anchor="start" fill="#fff" font-family="Liberation Sans, Arial, sans-serif" font-weight="bold" >C</text>
<rect x="730.0" y="1125.8" width="43.8" height="4.6" fill="#fff"/>
</g>
<g clip-path="url(#cD)">
<rect x="786" y="737" width="302" height="406" fill="#171d5a"/>
<g filter="url(#bL)">
<ellipse cx="830" cy="760" rx="60" ry="20" fill="#11154a"/>
<ellipse cx="960" cy="770" rx="80" ry="25" fill="#12174e"/>
<ellipse cx="1060" cy="800" rx="40" ry="40" fill="#151a55"/>
<ellipse cx="840" cy="880" rx="50" ry="50" fill="#171d5a"/>
<ellipse cx="1000" cy="860" rx="60" ry="40" fill="#141952"/>
<ellipse cx="900" cy="980" rx="70" ry="40" fill="#1a2162"/>
<ellipse cx="1040" cy="960" rx="50" ry="40" fill="#181e5c"/>
<ellipse cx="830" cy="1040" rx="50" ry="40" fill="#1b2264"/>
<ellipse cx="930" cy="1080" rx="60" ry="30" fill="#1a2060"/>
<ellipse cx="1040" cy="1080" rx="50" ry="40" fill="#1d2466"/>
<ellipse cx="880" cy="1130" rx="80" ry="20" fill="#1c2364"/>
<ellipse cx="1000" cy="1130" rx="50" ry="20" fill="#151a52"/>
<ellipse cx="800" cy="950" rx="20" ry="60" fill="#1c2364"/>
</g>
<rect id="dkD" x="786" y="737" width="302" height="406" fill="#0c1230" opacity="0.2"/>
<rect x="786" y="737" width="302" height="405" filter="url(#nz)" opacity="0.07"/>
<rect x="786" y="737" width="302" height="405" filter="url(#nzd)" opacity="0.10"/>
<g transform="translate(780,725) scale(0.189125)" fill="none" stroke-linecap="round" stroke-linejoin="round" filter="url(#bz)">
<path d="M222,300 C 205,380 190,460 172,550" stroke="#c4ecd8" stroke-width="11"/>
<path d="M222,300 C 200,280 190,265 175,250" stroke="#c4ecd8" stroke-width="8"/>
<path d="M225,305 C 240,295 255,290 275,290" stroke="#c4ecd8" stroke-width="8"/>
<path d="M600,310 C 598,400 592,480 580,570" stroke="#c4ecd8" stroke-width="11"/>
<path d="M600,310 C 585,290 570,280 545,272" stroke="#c4ecd8" stroke-width="8"/>
<path d="M603,310 C 620,285 650,265 690,255" stroke="#c4ecd8" stroke-width="8"/>
<path d="M900,280 C 925,350 935,450 925,560" stroke="#c4ecd8" stroke-width="11"/>
<path d="M900,280 C 880,255 850,240 820,232" stroke="#c4ecd8" stroke-width="8"/>
<path d="M905,280 C 910,240 925,200 945,175" stroke="#c4ecd8" stroke-width="8"/>
<path d="M1335,225 C 1310,320 1295,450 1295,580" stroke="#c4ecd8" stroke-width="11"/>
<path d="M1335,225 C 1325,190 1305,160 1280,140" stroke="#c4ecd8" stroke-width="8"/>
<path d="M1338,228 C 1355,205 1380,190 1410,180" stroke="#c4ecd8" stroke-width="8"/>
<path d="M172,550 C 160,650 150,760 152,850 C 153,900 165,930 155,950 C 145,970 125,968 112,960" stroke="#eef2f8" stroke-width="9"/>
<path d="M580,570 C 555,650 545,760 555,850 C 560,900 555,950 548,990" stroke="#eef2f8" stroke-width="9"/>
<path d="M925,560 C 918,700 915,900 915,1084 C 925,1180 940,1280 945,1284 C 955,1400 965,1500 975,1600 C 990,1720 1010,1850 1020,2090" stroke="#eef2f8" stroke-width="7"/>
<path d="M1295,580 C 1300,700 1310,800 1320,900 C 1335,1000 1350,1050 1360,1084 C 1400,1200 1440,1300 1465,1420 C 1490,1550 1495,1700 1492,1850 C 1490,1920 1485,1950 1480,1975" stroke="#eef2f8" stroke-width="7"/>
<path d="M165,580 L70,655 M160,610 L250,640 M158,640 L90,660 M155,700 L225,745 M152,750 L115,750 M152,780 L185,785 M155,720 L170,700 M575,580 L460,605 M572,610 L480,640 M568,650 L490,690 M560,720 L512,765 M585,585 L625,625 M580,640 L625,690 M570,700 L600,750 M560,780 L595,800 M560,600 L470,580 M920,575 C 850,680 720,850 622,950 M930,575 C 990,590 1050,590 1100,615 C 1160,650 1220,690 1280,700 M930,620 C 970,680 1060,720 1150,730 M915,730 C 850,790 770,860 738,930 C 730,960 735,980 742,990 M940,800 C 1000,870 1070,950 1130,1005 M910,920 C 860,940 810,955 790,970 C 785,985 790,1000 802,1010 M920,965 C 960,985 1010,1015 1050,1045 M915,1030 C 890,1045 860,1060 840,1075 M915,1100 L880,1110 M915,1105 L945,1110 M915,685 L985,690 M1305,590 C 1380,620 1450,650 1520,665 C 1560,675 1590,685 1622,680 M1300,650 C 1250,690 1200,730 1160,752 M1300,720 C 1270,750 1245,775 1225,792 M1310,650 C 1350,700 1400,750 1432,792 M1320,800 C 1370,800 1410,800 1440,812 C 1465,840 1480,870 1492,890 M1320,840 C 1370,850 1410,860 1450,870 M1322,890 C 1280,920 1230,955 1192,985 M1330,920 C 1370,925 1410,932 1450,940 M1340,970 C 1375,980 1410,988 1440,996 M1310,760 C 1300,780 1290,790 1280,700" stroke="#d8deee" stroke-width="6.5"/>
<path d="M152,780 L152,900 M555,780 L558,880 M575,580 L560,700 M165,570 L158,680" stroke="#eef2f8" stroke-width="13"/>
<ellipse cx="160" cy="240" rx="62" ry="34" transform="rotate(15 160 240)" fill="#bdeed8" stroke="none"/>
<ellipse cx="297" cy="290" rx="55" ry="30" transform="rotate(20 297 290)" fill="#a6e6c4" stroke="none"/>
<ellipse cx="522" cy="270" rx="58" ry="24" transform="rotate(5 522 270)" fill="#bdeed8" stroke="none"/>
<ellipse cx="700" cy="250" rx="68" ry="30" transform="rotate(5 700 250)" fill="#bdeed8" stroke="none"/>
<ellipse cx="605" cy="300" rx="18" ry="30" transform="rotate(20 605 300)" fill="#8fd6a0" stroke="none"/>
<ellipse cx="800" cy="226" rx="62" ry="25" transform="rotate(8 800 226)" fill="#bdeed8" stroke="none"/>
<ellipse cx="955" cy="165" rx="75" ry="40" transform="rotate(-25 955 165)" fill="#bdeed8" stroke="none"/>
<ellipse cx="1270" cy="130" rx="62" ry="30" transform="rotate(25 1270 130)" fill="#bdeed8" stroke="none"/>
<ellipse cx="1440" cy="172" rx="65" ry="36" transform="rotate(-15 1440 172)" fill="#bdeed8" stroke="none"/>
</g>
<text transform="translate(791.40,1041.90) scale(0.8950,1)" font-size="29.2" text-anchor="start" fill="#fff" font-family="Liberation Sans, Arial, sans-serif" font-weight="bold" >43</text>
<text transform="translate(876.40,1041.90) scale(0.8950,1)" font-size="29.2" text-anchor="start" fill="#fff" font-family="Liberation Sans, Arial, sans-serif" font-weight="bold" >61</text>
<text transform="translate(934.80,1041.90) scale(0.8950,1)" font-size="29.2" text-anchor="start" fill="#fff" font-family="Liberation Sans, Arial, sans-serif" font-weight="bold" >69</text>
<text transform="translate(1020.60,1041.90) scale(0.8950,1)" font-size="29.2" text-anchor="start" fill="#fff" font-family="Liberation Sans, Arial, sans-serif" font-weight="bold" >72</text>
<text transform="translate(805.90,1118.80) scale(0.8120,1)" font-size="48.2" text-anchor="start" fill="#fff" font-family="Liberation Sans, Arial, sans-serif" font-weight="bold" >D</text>
<rect x="1016" y="1125.7" width="57.7" height="4.6" fill="#fff"/>
</g>
<g clip-path="url(#cE)">
<rect x="1100" y="700" width="665" height="462" fill="#f8f8f8"/>
<g filter="url(#bM)" fill="#f5f5f5">
<ellipse cx="1180" cy="1000" rx="40" ry="60"/>
<ellipse cx="1260" cy="1080" rx="50" ry="40"/>
<ellipse cx="1330" cy="1000" rx="50" ry="50"/>
<ellipse cx="1400" cy="1100" rx="30" ry="40"/>
<ellipse cx="1500" cy="1080" rx="50" ry="50"/>
<ellipse cx="1600" cy="1000" rx="40" ry="60"/>
<ellipse cx="1150" cy="780" rx="30" ry="30"/>
<ellipse cx="1300" cy="760" rx="60" ry="25"/>
<ellipse cx="1420" cy="800" rx="20" ry="50"/>
<ellipse cx="1640" cy="800" rx="30" ry="40"/>
<ellipse cx="1720" cy="1050" rx="30" ry="50"/>
<ellipse cx="1480" cy="760" rx="20" ry="20"/>
</g>
<g filter="url(#b1)" stroke-linecap="round" stroke-linejoin="round" fill="none">
<path d="M1211.5,843.2 1208.6,842.4 1203.5,840.0 1198.5,837.8 1194.8,837.3 1190.6,836.8 1186.7,835.5 1183.9,835.9 1182.3,837.0 1181.7,839.4 1179.2,841.6 1177.1,844.1" stroke="#a8a8a8" stroke-width="1.4" fill="none"/>
<path d="M1211.0,842.8 1209.0,843.3 1205.2,843.4 1201.0,843.8 1195.9,844.0 1192.3,844.9 1189.2,844.8 1184.6,845.6 1180.9,845.0 1178.0,844.5 1175.6,842.0 1173.8,837.4 1172.3,833.6 1169.3,830.8 1165.4,829.5 1162.6,829.0" stroke="#8a8a8a" stroke-width="1.5" fill="none"/>
<path d="M1201.1,862.3 1198.9,863.7 1195.8,865.8 1191.2,867.5 1187.6,869.9 1184.7,872.0 1180.0,873.5 1176.0,875.0 1172.7,876.3 1168.4,878.5 1164.4,880.9 1160.0,883.6 1157.8,885.0" stroke="#8a8a8a" stroke-width="1.8" fill="none"/>
<path d="M1201.1,862.3 1198.9,863.7 1195.8,865.8 1191.2,867.5 1187.6,869.9 1184.7,872.0 1180.0,873.5" stroke="#8a8a8a" stroke-width="2.43" fill="none"/>
<path d="M1213.2,839.4 1216.2,836.4 1220.6,832.3 1223.8,829.5 1226.4,827.2M1213.3,840.1 1217.2,839.7 1222.5,839.2 1226.5,839.1 1231.2,838.5 1233.7,838.7" stroke="#8a8a8a" stroke-width="1.3" fill="none"/>
<path d="M1211.4,843.7 1207.5,844.5 1204.5,845.7 1198.7,846.2 1193.7,846.9 1190.1,845.3 1186.4,845.2 1182.1,843.4 1178.3,843.8 1174.1,845.8 1170.4,848.3 1166.7,849.9 1164.8,852.4 1162.5,854.2M1210.7,843.8 1209.1,844.5 1204.5,845.7 1199.3,845.9 1195.2,846.3 1191.3,846.9 1186.3,847.3 1182.5,846.6 1179.0,847.2 1175.2,848.5 1171.4,849.0 1167.4,851.0 1165.3,852.6 1160.6,854.0 1157.6,857.1 1153.9,859.0 1150.1,862.8 1147.3,864.0 1145.1,869.1 1143.8,872.2M1211.4,844.8 1209.0,846.2 1206.5,848.4 1203.3,850.0 1200.3,852.6 1196.0,855.6 1193.1,856.6 1189.4,858.5 1185.9,860.3 1181.4,861.9 1178.2,864.3 1174.6,864.4 1170.8,866.4 1168.8,868.6 1164.7,868.7 1160.1,870.3 1157.0,872.3 1153.3,873.7 1149.5,874.8 1144.5,875.2 1140.4,876.5 1137.4,877.6 1133.0,878.3 1131.2,879.7M1210.8,846.0 1209.0,847.1 1206.4,848.7 1203.3,851.2 1198.7,852.2 1194.8,855.6 1191.9,857.1 1187.4,858.8 1185.1,860.6 1179.9,862.9 1176.3,863.7 1173.9,865.8 1169.9,867.0 1166.1,868.5 1162.1,869.5 1156.9,872.3 1153.8,873.2 1150.8,873.8 1147.7,875.1M1211.3,847.5 1209.5,848.8 1207.2,851.1 1203.3,854.2 1198.8,855.6 1196.0,859.0 1192.1,861.8 1189.2,862.8 1184.7,863.6 1181.7,866.4 1177.8,866.8 1175.1,868.4 1171.5,870.7 1168.6,871.2 1164.8,873.2 1161.6,873.9 1157.5,876.2 1153.6,879.0 1150.2,879.9 1146.0,881.9 1144.0,883.0M1211.5,848.0 1209.5,849.5 1207.0,851.7 1204.3,854.1 1200.0,855.8 1197.3,859.3 1192.8,860.7 1189.9,863.2 1186.5,865.7 1184.0,867.2 1179.3,868.5 1177.0,870.4 1172.0,870.6 1170.0,872.9 1166.4,873.8 1163.0,874.7 1158.1,876.9 1153.6,880.0 1150.0,881.5 1147.6,883.1 1144.4,883.4M1211.8,851.9 1209.7,852.5 1206.9,854.9 1205.1,857.2 1201.8,860.2 1198.8,863.5 1195.5,865.6 1193.5,868.5 1190.4,870.2 1187.1,872.5 1184.1,874.1 1180.5,877.7 1177.2,879.3 1173.7,881.5 1171.0,882.7 1167.7,883.9 1163.7,886.2 1161.4,888.1 1158.6,890.0 1156.0,892.3 1153.6,894.9 1149.5,895.5 1144.6,897.7 1140.9,899.4 1138.8,901.1M1211.2,851.7 1210.2,853.1 1206.6,854.5 1204.0,856.9 1201.7,859.1 1198.2,862.9 1194.4,865.7 1192.0,868.2 1188.8,870.2 1184.8,871.5 1182.0,874.5 1178.5,875.7 1174.8,879.0 1172.0,880.0 1169.1,882.3 1167.3,884.6 1162.8,887.0 1158.3,888.9 1154.2,889.7 1152.1,891.4 1149.5,892.3M1211.0,855.9 1210.4,858.3 1207.3,860.7 1204.9,862.6 1200.9,865.6 1198.7,868.9 1194.9,871.6 1192.3,873.6 1189.6,876.1 1186.4,877.9 1182.8,879.4 1178.3,881.0 1175.9,883.8 1172.1,884.6 1169.4,887.2 1165.0,887.1 1160.8,889.6 1158.8,890.5 1155.1,891.6 1152.6,893.2 1149.2,895.8 1146.6,898.9 1144.1,902.5 1142.5,905.1 1140.5,908.7 1139.0,913.1 1136.8,917.1 1136.2,920.1 1136.2,923.8 1135.7,926.3M1212.1,855.9 1209.7,858.1 1208.2,860.0 1205.6,863.5 1202.5,865.7 1199.5,868.9 1195.6,871.9 1193.3,874.0 1190.6,876.7 1187.6,879.8 1184.8,881.2 1180.5,882.6 1177.5,885.4 1175.0,885.9 1171.4,887.9 1166.6,889.0 1164.0,889.5 1160.5,891.6 1156.0,893.1 1154.3,895.2 1150.1,896.7 1147.1,900.1 1146.1,902.1 1143.0,905.2 1141.9,908.4 1140.2,911.9 1139.0,915.6 1138.1,920.4 1137.6,924.3 1137.4,927.0M1209.6,868.7 1209.0,871.4 1205.9,874.9 1204.0,878.2 1200.8,882.0 1196.6,885.3 1193.0,888.6 1191.1,890.5M1210.7,868.3 1208.0,870.5 1205.8,874.6 1203.2,878.3 1200.3,881.9 1198.7,885.3 1196.0,887.1 1192.7,889.1 1189.2,891.7 1186.7,893.2 1181.4,896.2 1178.1,898.2 1174.7,899.5 1171.3,900.0M1208.5,878.6 1207.5,880.6 1205.7,883.7 1202.9,887.3 1199.9,889.9 1197.7,893.6 1194.6,895.3 1190.7,897.7 1188.0,898.5M1208.6,877.1 1206.9,880.1 1203.1,882.8 1201.0,887.5 1197.1,889.5 1193.9,892.9 1190.8,894.8 1187.5,897.0 1184.6,897.6 1180.1,899.7 1176.5,900.9 1173.1,902.0M1203.8,855.7 1201.0,858.1 1197.5,859.5 1194.1,861.8 1190.0,863.6 1187.3,866.9 1183.3,867.7 1180.0,869.4 1175.9,869.6 1172.3,870.7 1169.0,872.1 1165.8,873.6 1161.0,876.9 1158.2,877.7 1155.0,879.8M1202.9,856.0 1201.8,856.4 1198.3,857.8 1195.0,860.3 1191.3,861.4 1187.8,863.9 1184.3,864.7 1179.6,866.3 1176.2,869.0 1172.8,870.8 1170.9,872.2 1166.8,872.2 1162.7,875.0 1158.7,875.5 1155.5,878.1 1152.6,878.4M1201.4,862.5 1198.8,863.8 1196.6,865.2 1191.8,867.3 1188.9,869.3 1185.9,871.2 1181.5,872.7 1178.2,874.3 1175.7,876.6 1172.0,877.8 1167.3,879.1 1164.3,881.8 1161.1,883.6 1158.9,884.7M1201.4,862.4 1198.8,863.6 1195.6,865.8 1190.8,866.3 1186.1,868.1 1182.4,870.2 1178.5,871.9 1174.3,874.2 1172.3,874.8M1212.4,843.4 1214.6,843.9 1219.7,846.4 1222.6,847.7 1228.2,847.8 1231.6,848.5M1212.7,842.9 1214.9,843.6 1219.9,846.4 1223.2,848.7 1226.3,850.5 1229.1,852.5 1232.3,853.3M1212.1,844.1 1214.6,846.8 1219.0,848.7 1222.4,852.4 1225.2,854.5 1227.5,857.6 1228.6,861.9 1231.6,864.2 1233.0,867.6 1235.8,870.5 1238.6,874.1 1241.1,878.9 1242.8,880.7M1212.4,843.7 1215.1,846.6 1217.7,848.9 1220.4,853.3 1224.7,857.3 1226.4,859.2 1228.9,861.8 1230.8,864.7 1233.8,867.2 1236.4,870.1 1238.1,873.3 1240.7,876.4 1242.1,878.4 1244.9,882.7 1247.5,884.2 1250.9,887.4 1253.0,892.2 1254.7,893.7 1257.2,896.2M1213.0,845.2 1214.1,847.3 1215.6,850.3 1218.8,853.9 1221.4,858.0 1223.5,861.6 1225.3,863.8 1227.7,867.5 1229.7,870.7 1231.5,873.1 1234.0,875.7 1236.0,878.3 1238.4,881.5 1242.0,884.7 1243.9,888.7 1246.8,890.3 1250.0,893.6 1251.4,895.2M1212.5,845.6 1215.1,848.6 1216.2,851.4 1219.0,854.6 1223.0,857.2 1224.7,861.0 1227.8,864.6 1229.9,867.7 1232.9,869.6 1236.7,873.0 1238.5,874.9 1240.1,877.4M1212.2,847.3 1214.0,849.0 1215.6,853.0 1216.8,856.6 1218.1,859.7 1221.0,864.0 1221.6,866.1 1224.3,870.7 1225.3,873.2 1228.3,876.3 1230.7,879.2 1231.3,882.7 1233.2,886.2 1234.9,889.5 1237.5,893.5 1239.5,897.9 1241.7,901.4 1243.2,905.2 1245.2,909.1 1245.6,910.9M1211.8,847.2 1214.2,849.2 1214.3,853.5 1216.1,856.5 1217.9,860.3 1221.1,863.4 1222.8,867.9 1223.3,870.0 1226.8,874.1 1227.9,877.1 1229.7,878.9 1233.0,881.7 1234.4,885.8 1236.3,887.9 1238.8,892.6 1240.7,895.6 1243.2,899.7 1244.3,903.9 1246.7,906.9 1247.5,908.7" stroke="#6e6e6e" stroke-width="1.2" fill="none"/>
<path d="M1211.0,844.2 1208.7,844.9 1205.7,845.4 1201.8,846.4 1197.2,847.2 1194.0,847.7 1190.0,847.8 1185.3,846.8 1180.9,847.0 1177.3,847.2 1173.6,848.3 1169.9,850.0 1166.4,852.1 1163.6,854.3 1160.0,855.7 1156.8,858.3 1153.7,860.5 1150.6,862.3 1148.3,864.1 1145.5,866.4 1143.2,870.8 1142.1,874.2M1211.6,856.5 1209.0,858.5 1207.1,860.3 1203.9,864.3 1199.9,867.7 1196.8,870.3 1194.1,873.2 1191.1,875.1 1187.9,876.9 1184.8,879.0 1181.5,880.6 1178.6,882.3 1175.1,883.6 1171.9,885.2 1167.6,887.3 1164.0,888.6 1160.5,890.1 1157.0,891.4 1153.8,893.2 1150.6,895.7 1148.5,898.1 1145.4,900.7 1143.5,904.0 1142.6,907.0 1141.3,910.3 1139.9,914.3 1139.5,918.3 1138.9,922.1 1138.5,924.8" stroke="#5a5a5a" stroke-width="1.8" fill="none"/>
<path d="M1211.0,844.2 1208.7,844.9 1205.7,845.4 1201.8,846.4 1197.2,847.2 1194.0,847.7 1190.0,847.8 1185.3,846.8 1180.9,847.0 1177.3,847.2 1173.6,848.3 1169.9,850.0M1211.6,856.5 1209.0,858.5 1207.1,860.3 1203.9,864.3 1199.9,867.7 1196.8,870.3 1194.1,873.2 1191.1,875.1 1187.9,876.9 1184.8,879.0 1181.5,880.6 1178.6,882.3 1175.1,883.6 1171.9,885.2 1167.6,887.3" stroke="#5a5a5a" stroke-width="2.43" fill="none"/>
<path d="M1210.5,861.0 1209.6,863.0 1206.9,865.4 1203.9,869.3 1201.8,871.8 1198.9,875.4 1196.7,877.6 1193.0,880.4 1190.5,883.4 1187.7,884.7 1184.2,887.0 1180.9,889.4 1177.4,891.1 1174.0,893.3 1171.5,895.4 1168.7,898.2 1166.7,901.3 1165.9,905.5 1164.9,909.5 1164.4,912.7 1163.6,916.4 1164.3,921.9 1165.7,926.6 1166.2,929.6M1208.2,887.3 1206.4,889.5 1203.6,892.9 1201.0,896.3 1198.7,899.3 1195.4,902.3 1193.1,903.9 1190.2,906.9 1186.8,910.1 1184.1,912.8 1181.9,915.1" stroke="#5a5a5a" stroke-width="1.7" fill="none"/>
<path d="M1210.5,861.0 1209.6,863.0 1206.9,865.4 1203.9,869.3 1201.8,871.8 1198.9,875.4 1196.7,877.6 1193.0,880.4 1190.5,883.4 1187.7,884.7 1184.2,887.0 1180.9,889.4 1177.4,891.1M1208.2,887.3 1206.4,889.5 1203.6,892.9 1201.0,896.3 1198.7,899.3 1195.4,902.3" stroke="#5a5a5a" stroke-width="2.29" fill="none"/>
<path d="M1203.9,855.8 1201.9,857.2 1198.4,858.9 1194.6,860.3 1191.2,862.2 1187.8,864.2 1184.2,865.5 1180.5,867.4 1177.7,868.3 1174.3,869.4 1170.9,870.4 1167.5,871.7 1163.4,873.7 1158.2,874.8 1154.5,876.4 1151.8,877.8" stroke="#5a5a5a" stroke-width="2.2" fill="none"/>
<path d="M1203.9,855.8 1201.9,857.2 1198.4,858.9 1194.6,860.3 1191.2,862.2 1187.8,864.2 1184.2,865.5 1180.5,867.4" stroke="#5a5a5a" stroke-width="2.97" fill="none"/>
<path d="M1212.3,849.8 1213.2,852.0 1214.2,855.0 1215.4,859.1 1216.5,863.3 1217.5,867.5 1219.2,870.5 1220.3,874.1 1221.3,878.2 1223.3,881.4 1224.6,884.8 1225.9,888.0 1228.1,892.6 1228.5,894.7 1230.6,898.3 1231.2,901.2 1233.1,904.8 1234.6,908.3 1236.4,912.5 1237.9,916.0 1238.3,918.8 1240.1,922.4 1240.2,926.4 1241.0,931.7 1240.9,936.1 1240.9,940.5 1240.4,944.5 1240.5,948.0 1240.3,950.0" stroke="#5a5a5a" stroke-width="1.5" fill="none"/>
<path d="M1212.6,852.2 1212.3,854.5 1213.4,857.4 1214.1,861.1 1214.4,865.0 1215.1,868.9 1216.0,873.1 1216.3,876.2 1216.5,879.8 1217.9,884.8 1218.1,888.5 1218.4,892.4 1219.1,896.3 1220.2,900.3 1220.7,904.2 1220.1,907.5 1220.9,911.8 1220.0,915.8 1220.0,919.0 1220.7,923.9 1220.1,927.6 1220.0,930.7 1220.7,934.2 1220.5,939.1 1221.7,943.3 1222.9,947.3 1223.0,950.4 1224.5,953.8 1224.6,956.1M1208.4,891.9 1208.5,894.9 1207.6,898.9 1206.5,902.9 1206.1,906.5 1205.8,910.5 1205.8,914.7 1204.8,917.7 1204.5,922.1 1204.9,925.9 1204.7,929.7 1205.8,934.4 1205.4,938.2 1206.0,940.4M1209.8,898.3 1210.9,902.0 1212.3,906.3 1213.6,910.1 1214.5,913.1 1214.6,916.8 1214.3,919.8 1213.6,923.5 1212.4,928.3 1212.0,930.8" stroke="#5a5a5a" stroke-width="1.4" fill="none"/>
<path d="M1211.9,845.2 1209.5,846.8 1206.2,848.0 1203.2,850.3 1199.2,853.3 1195.8,854.9 1191.1,857.0 1188.8,858.3 1184.9,859.8 1181.4,861.6 1177.9,862.9 1174.9,864.6 1171.2,865.9 1168.1,867.3 1164.8,868.0 1161.5,870.2 1158.1,871.2 1154.6,872.5 1151.5,874.5 1149.2,875.7 1145.8,876.8 1142.0,877.9 1138.4,878.9 1135.1,879.7 1132.1,880.8 1128.0,882.8 1123.9,883.9 1120.9,885.9 1116.3,887.3 1112.4,888.4 1108.5,890.2 1105.2,891.7 1103.0,892.2" stroke="#3a3a3a" stroke-width="2.3" fill="none"/>
<path d="M1211.9,845.2 1209.5,846.8 1206.2,848.0 1203.2,850.3 1199.2,853.3 1195.8,854.9 1191.1,857.0 1188.8,858.3 1184.9,859.8 1181.4,861.6 1177.9,862.9 1174.9,864.6 1171.2,865.9 1168.1,867.3 1164.8,868.0 1161.5,870.2 1158.1,871.2 1154.6,872.5" stroke="#3a3a3a" stroke-width="3.1" fill="none"/>
<path d="M1211.8,848.1 1209.7,848.9 1206.7,851.3 1204.0,853.0 1199.9,856.4 1196.2,858.7 1192.7,861.2 1189.5,863.4 1186.0,864.8 1183.1,866.7 1179.5,868.1 1176.2,869.4 1172.4,871.2 1169.0,872.7 1166.4,874.3 1162.8,875.3 1160.6,876.4 1156.9,878.0 1153.3,879.4 1150.0,881.6 1146.9,882.7 1144.3,884.3 1140.6,885.0 1137.0,886.2 1133.7,887.1 1130.8,888.1 1127.1,889.2 1124.4,890.8 1120.0,893.0 1116.7,895.2 1112.8,897.4 1109.7,899.1 1107.2,900.7M1211.8,851.2 1209.9,853.3 1207.1,855.2 1204.3,857.1 1201.2,860.5 1197.7,863.2 1194.6,865.4 1191.4,868.1 1188.6,870.5 1186.0,871.8 1183.0,874.1 1179.7,876.2 1176.1,877.5 1173.5,880.0 1170.2,880.7 1167.8,882.9 1163.9,885.2 1160.5,886.8 1156.7,888.2 1153.7,889.9 1150.7,891.4 1146.9,892.5 1143.9,893.7 1140.4,894.9 1135.7,897.0 1133.4,899.1 1130.3,901.8 1127.7,905.7 1125.1,909.2 1122.1,911.4 1119.4,914.0 1118.1,916.3" stroke="#3a3a3a" stroke-width="2.2" fill="none"/>
<path d="M1211.8,848.1 1209.7,848.9 1206.7,851.3 1204.0,853.0 1199.9,856.4 1196.2,858.7 1192.7,861.2 1189.5,863.4 1186.0,864.8 1183.1,866.7 1179.5,868.1 1176.2,869.4 1172.4,871.2 1169.0,872.7 1166.4,874.3 1162.8,875.3 1160.6,876.4 1156.9,878.0M1211.8,851.2 1209.9,853.3 1207.1,855.2 1204.3,857.1 1201.2,860.5 1197.7,863.2 1194.6,865.4 1191.4,868.1 1188.6,870.5 1186.0,871.8 1183.0,874.1 1179.7,876.2 1176.1,877.5 1173.5,880.0 1170.2,880.7 1167.8,882.9 1163.9,885.2" stroke="#3a3a3a" stroke-width="2.97" fill="none"/>
<path d="M1209.8,868.5 1209.2,870.3 1206.6,873.4 1204.1,876.9 1202.0,880.6 1199.7,883.0 1198.0,886.4 1193.5,888.5 1191.6,890.0 1187.7,891.9 1183.9,892.9 1180.3,895.2 1176.8,896.0 1174.7,897.1M1208.8,877.8 1207.1,879.9 1204.4,884.5 1201.5,887.9 1199.0,891.0 1194.6,894.8 1190.0,897.5 1186.9,898.8 1182.0,900.0 1177.3,902.3 1174.7,903.1" stroke="#3a3a3a" stroke-width="2.0" fill="none"/>
<path d="M1209.8,868.5 1209.2,870.3 1206.6,873.4 1204.1,876.9 1202.0,880.6 1199.7,883.0 1198.0,886.4M1208.8,877.8 1207.1,879.9 1204.4,884.5 1201.5,887.9 1199.0,891.0 1194.6,894.8" stroke="#3a3a3a" stroke-width="2.7" fill="none"/>
<path d="M1212.1,843.2 1215.5,843.6 1219.1,845.6 1223.2,848.0 1225.6,849.2 1228.6,850.4 1232.4,852.4 1235.8,854.6 1240.2,855.8 1244.0,858.8 1248.2,860.4 1250.5,861.5" stroke="#3a3a3a" stroke-width="1.9" fill="none"/>
<path d="M1212.1,843.2 1215.5,843.6 1219.1,845.6 1223.2,848.0 1225.6,849.2 1228.6,850.4" stroke="#3a3a3a" stroke-width="2.56" fill="none"/>
<path d="M1212.3,843.7 1215.1,846.0 1218.4,849.0 1222.5,853.0 1225.0,855.7 1228.2,859.5 1230.1,861.7 1233.0,865.5 1234.8,867.8 1237.5,871.6 1239.3,873.9 1242.3,877.3 1244.9,880.3 1246.7,883.6 1250.0,886.9 1252.3,889.6 1255.3,893.1 1256.5,894.7M1213.0,845.6 1213.6,847.3 1216.2,850.6 1218.7,853.5 1220.8,856.8 1223.2,859.9 1225.2,862.6 1228.0,866.1 1230.5,869.2 1232.1,871.5 1234.4,874.5 1236.4,877.5 1238.8,880.3 1241.3,882.8 1244.3,885.7 1247.3,889.0 1250.5,891.6 1252.7,894.0 1254.5,897.0 1254.4,902.0 1253.3,906.7 1251.3,911.1 1250.5,913.9M1212.9,847.8 1213.9,849.3 1215.3,853.0 1216.8,856.2 1218.5,859.9 1220.7,864.2 1222.5,867.4 1223.8,870.8 1225.7,873.8 1227.5,877.4 1229.3,880.4 1230.8,883.6 1232.4,887.0 1234.0,890.3 1235.7,893.9 1237.9,897.7 1239.4,901.5 1241.5,905.1 1243.3,908.8 1244.3,911.6 1246.8,915.4 1248.5,919.4 1249.9,922.5 1251.1,924.8" stroke="#3a3a3a" stroke-width="1.8" fill="none"/>
<path d="M1212.3,843.7 1215.1,846.0 1218.4,849.0 1222.5,853.0 1225.0,855.7 1228.2,859.5 1230.1,861.7 1233.0,865.5 1234.8,867.8M1213.0,845.6 1213.6,847.3 1216.2,850.6 1218.7,853.5 1220.8,856.8 1223.2,859.9 1225.2,862.6 1228.0,866.1 1230.5,869.2 1232.1,871.5 1234.4,874.5 1236.4,877.5M1212.9,847.8 1213.9,849.3 1215.3,853.0 1216.8,856.2 1218.5,859.9 1220.7,864.2 1222.5,867.4 1223.8,870.8 1225.7,873.8 1227.5,877.4 1229.3,880.4 1230.8,883.6 1232.4,887.0" stroke="#3a3a3a" stroke-width="2.43" fill="none"/>
<path d="M1212.4,842.6 1212.1,846.4 1212.1,851.4 1211.3,855.7 1211.2,860.0 1211.7,862.6 1211.1,867.9 1210.6,871.0 1210.0,874.3 1210.2,878.3 1209.4,881.7 1208.7,886.6 1208.7,890.3 1207.9,894.0 1206.9,898.7 1206.1,901.6 1205.5,905.0 1203.5,907.8 1202.1,911.2 1200.7,914.6 1199.5,918.2 1198.2,921.5 1197.2,924.7 1196.8,928.1 1195.7,932.2 1195.0,935.8 1195.0,940.8 1193.6,944.2 1194.3,948.8 1193.7,952.7 1193.1,956.4 1193.0,959.5 1193.6,963.9 1193.3,968.3 1193.3,972.2 1194.0,975.7 1193.6,979.4 1193.7,982.1 1194.6,986.5 1194.1,991.2 1194.4,995.1 1195.5,997.9 1195.4,1000.6" stroke="#3a3a3a" stroke-width="1.7" fill="none"/>
<path d="M1212.4,842.6 1212.1,846.4 1212.1,851.4 1211.3,855.7 1211.2,860.0 1211.7,862.6 1211.1,867.9 1210.6,871.0 1210.0,874.3 1210.2,878.3 1209.4,881.7 1208.7,886.6 1208.7,890.3 1207.9,894.0 1206.9,898.7 1206.1,901.6 1205.5,905.0 1203.5,907.8 1202.1,911.2 1200.7,914.6 1199.5,918.2 1198.2,921.5 1197.2,924.7" stroke="#3a3a3a" stroke-width="2.29" fill="none"/>
<path d="M1349.7,873.9 1348.0,876.4 1346.5,880.0 1344.7,884.3 1343.2,887.5 1341.3,891.0 1338.4,895.0 1337.2,897.1M1353.9,882.2 1353.5,885.2 1351.2,889.8 1349.3,893.9 1347.9,896.8 1344.5,901.3 1342.1,904.3M1360.3,877.6 1360.8,880.7 1362.6,884.1 1364.6,888.9 1365.7,891.8 1367.6,896.7 1367.7,900.9 1368.6,904.3M1359.2,887.2 1359.6,889.9 1361.1,893.9 1362.8,898.1 1364.4,902.7 1364.8,906.4 1365.6,911.4 1365.3,915.9 1365.6,919.4 1365.5,922.3" stroke="#8a8a8a" stroke-width="1.3" fill="none"/>
<path d="M1356.4,845.4 1353.3,846.6 1349.3,849.0 1343.7,850.6 1340.9,850.5 1337.8,851.3 1334.4,852.0 1330.3,853.7 1326.2,854.1 1323.0,854.7 1318.6,856.7 1314.7,857.1 1312.1,857.6M1356.6,844.5 1352.9,846.5 1350.2,848.6 1345.3,850.7 1341.5,851.8 1336.9,852.0 1332.6,852.8 1329.8,853.8 1325.4,854.2 1320.9,855.6 1317.1,854.9 1314.1,855.6 1311.4,856.0M1355.4,846.1 1354.0,848.6 1350.3,851.1 1345.0,853.5 1341.5,854.4 1338.4,855.2 1333.5,857.4 1329.5,857.0 1324.6,859.3 1321.3,860.8 1318.0,862.0 1313.8,864.2 1310.4,865.2 1306.6,868.1 1304.2,868.7 1300.3,871.3 1297.5,871.4 1292.6,873.1 1290.8,874.5 1287.5,874.8 1282.1,875.8 1277.0,877.3 1274.3,878.9M1356.5,846.0 1353.8,846.8 1351.8,849.7 1348.6,853.0 1344.7,855.8 1341.1,856.2 1338.4,858.2 1334.6,860.2 1330.6,861.2 1327.5,863.0 1324.1,864.6 1320.1,866.0 1317.6,867.9 1313.7,868.3 1308.5,870.3 1306.3,871.9 1302.5,872.5 1300.8,873.1M1355.0,846.9 1353.6,849.3 1349.5,850.9 1345.0,852.8 1341.4,855.4 1339.7,856.6 1335.8,857.9 1332.0,859.4 1328.9,860.9 1325.7,863.2 1322.4,863.7 1318.6,866.2 1314.5,867.5 1310.0,868.7 1306.9,870.4 1303.1,871.2 1297.9,871.3 1294.6,872.1 1291.4,872.7 1288.8,873.4M1355.7,847.3 1353.9,847.9 1350.4,849.8 1346.9,852.7 1343.8,855.4 1340.5,857.2 1336.7,858.9 1333.9,860.2 1331.5,863.0 1328.1,864.1 1324.5,865.1 1320.6,866.8 1317.4,867.3 1312.4,869.1 1310.0,869.5 1307.5,870.3M1356.4,848.3 1353.7,848.1 1350.7,850.2 1346.8,850.0 1342.7,852.4 1340.3,854.0 1337.6,857.2 1335.0,859.6 1331.6,863.1 1329.8,865.2 1327.9,868.6 1325.2,872.0 1321.3,873.4 1318.4,875.7 1314.7,877.6 1312.8,879.9 1308.3,881.9 1305.9,883.0 1302.8,883.7 1298.4,885.9 1293.8,884.1 1291.5,884.0M1356.0,847.6 1353.0,848.3 1349.9,851.5 1345.0,853.3 1341.3,856.7 1338.9,858.0 1336.3,861.0 1333.7,863.1 1331.6,866.5 1329.3,870.4 1325.8,872.4 1322.6,874.7 1319.7,876.4 1315.5,879.3 1311.3,880.6 1307.5,882.7 1305.4,884.0 1301.0,886.3 1296.4,887.6 1293.3,888.4M1356.3,848.4 1354.2,850.5 1353.6,853.7 1349.6,856.8 1346.8,859.2 1345.5,862.5 1342.4,865.4 1340.4,866.8 1336.5,870.5 1333.5,873.9 1330.3,875.9 1328.1,878.9 1325.0,880.1 1322.3,883.2 1318.4,886.1 1315.3,889.1 1312.8,890.3 1310.0,891.6 1308.6,893.7M1356.9,848.9 1355.5,851.6 1353.3,855.1 1349.7,858.4 1346.3,862.8 1344.3,865.7 1342.2,867.8 1339.0,870.5 1336.1,874.1 1331.8,876.8 1329.3,878.9 1328.4,881.5 1325.4,883.1 1321.9,885.8 1320.1,888.1 1316.1,889.2 1313.9,891.6 1309.5,894.3 1307.7,895.9 1303.7,897.9 1300.1,899.2 1297.9,901.8 1294.2,903.3 1290.3,906.4 1287.3,908.3 1284.3,909.2 1280.7,910.8 1278.1,912.6 1276.4,913.9 1272.1,917.7 1268.5,920.0 1266.3,920.4 1264.3,922.2M1357.0,851.8 1356.0,853.2 1353.7,858.2 1350.7,862.3 1349.4,865.4 1346.8,867.7 1344.3,871.7 1341.6,873.7 1338.8,877.1 1337.0,880.5 1335.0,882.6 1332.1,886.5 1328.4,889.3 1325.6,891.3 1323.8,894.3 1322.0,897.0 1319.7,899.6 1317.3,904.2 1317.0,908.8 1317.6,911.6M1357.1,850.6 1356.0,854.1 1354.0,856.8 1352.3,861.8 1350.9,864.5 1348.5,867.3 1346.2,869.8 1343.0,873.5 1340.3,877.9 1338.2,880.2 1335.1,883.1 1332.0,886.8 1328.3,889.2 1324.7,892.7 1322.8,895.1 1320.7,897.0 1319.3,903.3 1318.8,907.2 1318.4,910.4M1358.3,844.1 1359.4,846.8 1362.5,850.9 1364.2,852.9 1368.6,855.2 1371.6,855.8 1376.5,857.6 1378.9,858.5 1382.8,861.6 1386.3,864.3 1389.8,866.3 1393.8,868.9 1397.2,870.9 1399.5,873.6 1403.5,875.5 1407.0,877.3 1410.0,880.5 1413.4,882.5 1416.5,884.5 1418.6,886.7 1421.3,888.8 1424.2,891.1 1426.8,894.0 1430.7,896.1 1433.6,898.7 1436.5,899.1 1442.0,898.9 1446.5,898.8M1358.0,844.9 1359.1,847.2 1363.1,850.9 1365.8,854.9 1366.9,858.0 1369.4,860.2 1373.3,862.8 1375.1,863.9 1378.8,866.8 1383.3,867.8 1386.8,868.8 1390.0,870.8 1392.6,872.9 1396.8,874.3 1400.2,877.7 1403.4,880.0 1406.5,882.0 1410.2,885.1 1412.8,887.3 1416.3,889.3 1419.3,891.9 1421.6,895.4 1425.6,898.5 1429.0,901.5 1432.7,904.2 1434.3,905.5M1358.1,846.5 1359.8,848.0 1364.0,851.7 1367.1,854.8 1369.6,857.3 1372.9,860.1 1376.0,863.2 1379.9,867.0 1382.3,868.7 1385.0,870.9 1388.8,873.7 1390.9,875.3 1394.5,876.6 1398.1,879.3 1401.3,881.7 1402.8,883.4 1407.0,886.2 1408.9,887.8 1411.7,891.0 1414.8,892.7 1416.4,895.3 1419.7,896.9 1424.2,900.6 1426.9,902.6 1428.3,903.8M1357.5,846.4 1360.0,847.9 1364.4,851.9 1368.1,856.1 1370.8,858.5 1372.5,860.9 1375.1,863.1 1378.2,864.8 1381.6,867.1 1383.4,870.5 1386.5,872.7 1390.4,873.6 1394.5,876.5 1398.1,878.3 1399.8,880.8 1402.5,881.9M1357.7,847.7 1360.3,848.8 1362.8,851.9 1365.3,855.6 1367.7,858.8 1371.8,862.7 1374.8,864.9 1377.0,867.3 1379.3,870.7 1382.3,873.3 1385.5,876.3 1387.7,878.5 1389.3,882.9 1390.5,885.4 1392.9,889.7 1394.5,893.5 1395.6,897.5 1398.9,901.5 1399.2,905.1M1358.7,846.6 1360.3,850.7 1364.6,855.2 1367.0,857.7 1370.1,859.1 1374.0,862.8 1377.6,866.0 1380.3,869.4 1384.0,871.8 1386.0,875.9 1389.4,877.9 1391.7,882.0 1393.0,885.0 1394.4,888.8 1396.3,892.3 1397.3,895.5 1399.8,900.5 1401.9,904.3 1402.6,908.0 1403.7,912.2 1404.3,917.1 1404.8,920.2 1405.7,923.7M1357.6,849.1 1359.1,853.0 1361.2,857.4 1362.5,860.6 1365.5,863.0 1366.5,868.3 1368.5,871.4 1369.5,873.9 1371.2,877.0 1372.9,880.5 1375.4,885.3 1377.2,887.7 1379.1,891.9 1381.2,894.5 1381.9,898.3 1383.8,902.7 1385.9,905.2 1388.1,908.7 1390.0,911.9 1392.2,915.2 1393.5,920.5 1397.2,923.7 1397.8,928.1 1400.7,931.9 1401.4,933.7M1357.1,849.3 1360.3,852.2 1362.0,858.2 1365.1,860.8 1367.9,866.4 1368.3,868.9 1370.0,872.5 1371.5,876.4 1374.1,880.7 1376.8,884.2 1378.0,887.7 1380.0,891.2 1382.6,894.2 1383.7,898.3 1385.6,901.1 1389.0,905.5 1390.4,909.3 1392.0,911.6 1393.5,913.2M1357.1,850.6 1357.5,853.4 1358.4,856.5 1360.4,861.5 1360.9,864.5 1362.0,868.8 1363.5,873.1 1365.0,875.5 1366.1,878.5 1366.5,882.5 1367.7,885.5 1369.8,889.7 1370.5,892.7 1372.1,896.2 1373.3,899.8 1373.9,904.0 1376.0,909.3 1377.7,912.5 1379.3,916.4 1380.1,920.1 1380.8,921.6M1357.9,851.7 1358.2,853.3 1359.4,856.4 1359.0,859.2 1360.4,863.8 1361.4,868.1 1362.0,872.6 1363.2,874.8 1364.2,878.4 1365.0,881.4 1367.5,885.7 1367.4,889.0 1369.3,892.7 1371.1,896.7 1371.1,900.1 1373.4,904.4 1375.2,908.0 1376.4,911.3 1376.9,913.8 1378.3,917.7 1381.1,921.4 1381.5,924.0 1383.6,928.1 1385.7,932.5 1385.7,936.0 1388.2,939.2 1388.6,942.3M1356.5,845.3 1358.0,848.3 1356.7,850.9 1357.5,855.4 1357.1,859.6 1356.9,862.8 1357.1,865.0 1357.2,869.2 1356.5,873.7 1356.8,877.1 1356.7,880.7 1356.3,885.1 1356.6,887.7 1355.4,892.1 1356.1,897.6 1355.5,900.5 1355.8,904.8 1354.0,908.9 1353.6,912.2 1352.2,916.2 1350.8,920.8 1350.6,923.8 1349.1,927.2 1348.4,932.6 1349.4,937.7 1350.7,940.3M1356.3,844.9 1357.4,847.3 1357.3,851.5 1358.3,855.6 1358.0,859.3 1359.7,862.4 1360.3,866.5 1358.9,871.9 1359.2,875.2 1359.5,878.6 1358.7,882.9 1358.7,886.2 1357.5,891.3 1358.6,895.3 1357.8,900.1 1357.2,903.1 1356.8,907.7 1355.8,911.6 1354.1,915.8 1353.5,919.9 1353.2,922.2 1351.8,925.6 1351.6,931.5 1352.6,933.7 1353.3,938.6 1353.9,942.7 1354.0,946.2 1353.7,951.2 1354.9,955.6 1354.5,958.7" stroke="#6e6e6e" stroke-width="1.2" fill="none"/>
<path d="M1355.6,847.2 1352.9,848.2 1349.9,851.1 1345.9,853.3 1341.6,854.9 1338.7,856.2 1335.9,857.8 1332.4,858.9 1328.7,859.3 1325.2,861.2 1322.2,861.7 1318.3,863.1 1315.0,865.1 1311.3,865.5 1308.4,867.5 1305.0,867.7 1300.4,868.9 1296.9,869.7 1292.1,870.5 1289.4,871.0 1286.7,871.8" stroke="#5a5a5a" stroke-width="2.2" fill="none"/>
<path d="M1355.6,847.2 1352.9,848.2 1349.9,851.1 1345.9,853.3 1341.6,854.9 1338.7,856.2 1335.9,857.8 1332.4,858.9 1328.7,859.3 1325.2,861.2 1322.2,861.7" stroke="#5a5a5a" stroke-width="2.97" fill="none"/>
<path d="M1356.4,851.5 1355.7,853.8 1354.5,857.3 1352.2,862.2 1349.5,865.0 1347.5,868.1 1345.5,870.4 1343.1,873.7 1340.4,876.6 1337.0,880.3 1334.5,882.7 1331.5,885.6 1329.2,888.1 1326.1,891.0 1323.4,894.0 1320.9,895.9 1319.2,898.5 1318.0,903.7 1317.5,907.0 1318.0,910.3M1357.1,851.0 1357.8,853.7 1359.4,857.0 1360.5,861.4 1361.9,865.7 1363.8,870.5 1365.1,874.0 1366.1,877.1 1366.9,880.8 1368.6,883.9 1369.3,887.7 1370.7,891.2 1372.0,894.8 1372.9,898.3 1375.2,901.5 1376.4,905.8 1378.1,908.9 1379.2,912.2 1380.2,916.1 1381.5,918.9 1383.3,922.4 1384.7,926.3 1386.3,930.1 1387.0,933.9 1388.2,936.6 1388.8,940.8 1389.8,944.5 1390.0,948.8 1389.8,952.9 1390.3,957.0 1390.2,959.7" stroke="#5a5a5a" stroke-width="1.8" fill="none"/>
<path d="M1356.4,851.5 1355.7,853.8 1354.5,857.3 1352.2,862.2 1349.5,865.0 1347.5,868.1 1345.5,870.4 1343.1,873.7 1340.4,876.6 1337.0,880.3 1334.5,882.7M1357.1,851.0 1357.8,853.7 1359.4,857.0 1360.5,861.4 1361.9,865.7 1363.8,870.5 1365.1,874.0 1366.1,877.1 1366.9,880.8 1368.6,883.9 1369.3,887.7 1370.7,891.2 1372.0,894.8 1372.9,898.3 1375.2,901.5 1376.4,905.8 1378.1,908.9" stroke="#5a5a5a" stroke-width="2.43" fill="none"/>
<path d="M1356.3,855.9 1356.5,859.4 1355.8,863.7 1353.8,867.9 1353.0,871.4 1351.4,874.9 1349.9,878.5 1348.7,881.9 1346.8,886.4 1345.6,889.2 1344.6,892.8 1342.5,896.2 1341.6,900.5 1339.8,903.9 1338.0,906.8 1337.3,910.6 1336.2,914.8 1334.1,919.2 1333.3,923.6 1333.0,926.0M1332.4,854.5 1329.8,853.0 1324.9,852.0 1321.4,850.3 1318.3,846.1 1315.6,843.5M1356.8,856.5 1357.3,858.2 1357.9,861.0 1359.0,865.4 1360.4,869.6 1361.7,873.9 1361.8,877.3 1363.4,880.1 1363.8,883.5 1365.3,887.0 1366.3,890.8 1367.9,894.2 1368.5,897.3 1369.9,900.8 1370.8,903.8 1372.1,908.4 1373.6,912.2 1375.0,915.4 1376.3,919.0 1378.7,922.2 1379.5,925.3 1380.6,928.4 1382.0,932.8 1382.7,936.6 1384.5,939.9 1385.5,943.8 1385.1,946.1 1384.7,951.2 1383.9,955.9 1383.0,958.5M1384.0,940.0 1385.6,943.9 1387.8,948.3 1390.1,952.4 1392.0,956.0 1393.7,960.6 1394.8,964.2 1397.4,969.3 1400.5,973.0 1401.9,976.5" stroke="#5a5a5a" stroke-width="1.6" fill="none"/>
<path d="M1356.3,855.9 1356.5,859.4 1355.8,863.7 1353.8,867.9 1353.0,871.4 1351.4,874.9 1349.9,878.5 1348.7,881.9 1346.8,886.4 1345.6,889.2 1344.6,892.8M1356.8,856.5 1357.3,858.2 1357.9,861.0 1359.0,865.4 1360.4,869.6 1361.7,873.9 1361.8,877.3 1363.4,880.1 1363.8,883.5 1365.3,887.0 1366.3,890.8 1367.9,894.2 1368.5,897.3 1369.9,900.8 1370.8,903.8 1372.1,908.4M1384.0,940.0 1385.6,943.9 1387.8,948.3 1390.1,952.4 1392.0,956.0" stroke="#5a5a5a" stroke-width="2.16" fill="none"/>
<path d="M1356.9,862.4 1356.4,865.3 1356.1,869.2 1355.6,873.9 1354.6,877.5 1353.5,879.8 1351.8,883.7 1350.6,887.1 1349.5,890.2 1348.0,894.5 1347.3,897.6 1346.2,901.5 1344.8,905.8 1343.9,909.9 1343.3,913.8 1342.0,917.6 1340.6,921.1 1340.7,924.0 1339.7,926.0" stroke="#5a5a5a" stroke-width="1.5" fill="none"/>
<path d="M1385.4,887.3 1384.5,891.7 1384.1,896.8 1384.9,902.2 1386.6,906.7" stroke="#5a5a5a" stroke-width="1.4" fill="none"/>
<path d="M1356.1,844.4 1353.6,846.2 1349.3,848.8 1344.0,851.2 1340.4,852.2 1336.8,853.8 1332.1,855.3 1328.9,855.7 1325.3,855.7 1321.5,856.8 1317.4,857.6 1312.8,858.2 1309.6,859.6 1307.0,860.9 1303.5,862.1 1299.4,864.2 1296.4,865.9 1292.2,867.0 1288.8,868.4 1285.5,869.3 1281.8,870.5 1277.5,871.3 1273.4,871.9 1269.7,872.3 1267.6,872.6 1265.0,873.0M1357.8,844.2 1360.0,846.5 1362.3,849.3 1364.8,852.7 1367.7,854.6 1369.5,856.6 1373.4,859.6 1375.3,861.0 1378.7,863.2 1382.0,865.1 1384.8,866.4 1388.5,868.8 1391.5,870.1 1394.1,872.8 1397.3,874.5 1401.0,876.7 1404.1,878.2 1406.9,880.5 1409.7,882.4 1413.3,885.0 1415.6,887.6 1418.3,890.2 1421.1,892.3 1424.8,894.7 1427.4,897.9 1430.7,899.9 1434.0,901.8 1439.3,902.0 1443.8,901.3" stroke="#3a3a3a" stroke-width="2.6" fill="none"/>
<path d="M1356.1,844.4 1353.6,846.2 1349.3,848.8 1344.0,851.2 1340.4,852.2 1336.8,853.8 1332.1,855.3 1328.9,855.7 1325.3,855.7 1321.5,856.8 1317.4,857.6 1312.8,858.2 1309.6,859.6 1307.0,860.9M1357.8,844.2 1360.0,846.5 1362.3,849.3 1364.8,852.7 1367.7,854.6 1369.5,856.6 1373.4,859.6 1375.3,861.0 1378.7,863.2 1382.0,865.1 1384.8,866.4 1388.5,868.8 1391.5,870.1 1394.1,872.8 1397.3,874.5" stroke="#3a3a3a" stroke-width="3.51" fill="none"/>
<path d="M1355.5,845.7 1353.4,847.1 1351.3,849.5 1347.5,851.8 1343.2,854.1 1340.5,854.5 1337.1,856.1 1333.5,857.1 1329.9,858.3 1325.8,859.5 1322.2,860.7 1319.4,862.3 1314.7,863.7 1311.1,865.3 1308.0,866.6 1304.9,868.2 1301.3,869.2 1297.0,870.9 1293.7,872.8 1290.3,873.6 1286.3,875.5 1283.0,877.1 1278.6,878.0 1275.7,879.9 1272.1,880.4 1269.8,881.4" stroke="#3a3a3a" stroke-width="2.4" fill="none"/>
<path d="M1355.5,845.7 1353.4,847.1 1351.3,849.5 1347.5,851.8 1343.2,854.1 1340.5,854.5 1337.1,856.1 1333.5,857.1 1329.9,858.3 1325.8,859.5 1322.2,860.7 1319.4,862.3 1314.7,863.7 1311.1,865.3" stroke="#3a3a3a" stroke-width="3.24" fill="none"/>
<path d="M1355.5,848.0 1353.8,848.4 1350.9,850.1 1347.3,851.9 1343.4,854.0 1339.5,855.7 1337.3,858.1 1334.3,861.8 1331.4,864.1 1328.7,867.1 1326.1,870.1 1322.4,873.1 1319.6,874.7 1316.1,877.4 1313.1,879.1 1309.8,881.2 1306.2,882.6 1304.0,883.7 1301.1,884.9 1294.5,886.8 1290.9,886.2M1358.0,847.3 1359.9,850.9 1363.9,855.1 1367.2,857.9 1371.3,862.3 1372.7,864.5 1375.6,867.2 1378.6,869.8 1381.1,873.0 1383.1,875.0 1385.6,878.0 1388.5,882.2 1389.7,886.2 1391.1,889.6 1393.7,893.4 1395.4,896.6 1396.7,900.2 1398.4,904.0 1399.5,907.7 1400.6,912.2 1400.4,917.0 1401.1,920.6 1401.7,923.6" stroke="#3a3a3a" stroke-width="2.0" fill="none"/>
<path d="M1355.5,848.0 1353.8,848.4 1350.9,850.1 1347.3,851.9 1343.4,854.0 1339.5,855.7 1337.3,858.1 1334.3,861.8 1331.4,864.1 1328.7,867.1 1326.1,870.1M1358.0,847.3 1359.9,850.9 1363.9,855.1 1367.2,857.9 1371.3,862.3 1372.7,864.5 1375.6,867.2 1378.6,869.8 1381.1,873.0 1383.1,875.0 1385.6,878.0 1388.5,882.2" stroke="#3a3a3a" stroke-width="2.7" fill="none"/>
<path d="M1356.4,848.5 1355.0,850.4 1352.6,853.2 1350.0,856.2 1347.3,859.3 1344.0,862.5 1342.3,865.4 1339.3,867.6 1335.6,870.8 1332.2,873.9 1330.0,876.1 1327.6,878.7 1325.7,880.3 1322.8,883.1 1319.6,885.7 1317.3,887.5 1314.0,890.3 1310.8,892.2 1308.5,893.7 1305.0,896.3 1302.2,898.0 1298.8,899.4 1295.2,901.7 1292.1,904.1 1288.1,905.7 1284.9,907.1 1282.2,909.2 1279.6,909.9 1276.6,912.0 1271.0,914.8 1267.5,916.9 1265.0,917.5M1358.2,846.1 1360.2,847.6 1362.0,849.7 1365.1,852.7 1368.2,856.2 1370.9,858.5 1373.3,859.9 1376.1,862.5 1379.1,865.2 1382.5,867.7 1385.2,869.8 1388.2,871.7 1391.8,873.3 1394.3,875.0 1397.7,877.4 1400.7,878.9 1403.0,881.6 1406.6,884.3 1410.2,886.0 1413.5,889.0 1416.2,891.6 1419.5,893.7 1423.2,896.7 1426.8,899.5 1430.1,902.3 1432.4,904.3" stroke="#3a3a3a" stroke-width="2.3" fill="none"/>
<path d="M1356.4,848.5 1355.0,850.4 1352.6,853.2 1350.0,856.2 1347.3,859.3 1344.0,862.5 1342.3,865.4 1339.3,867.6 1335.6,870.8 1332.2,873.9 1330.0,876.1 1327.6,878.7 1325.7,880.3 1322.8,883.1 1319.6,885.7 1317.3,887.5 1314.0,890.3M1358.2,846.1 1360.2,847.6 1362.0,849.7 1365.1,852.7 1368.2,856.2 1370.9,858.5 1373.3,859.9 1376.1,862.5 1379.1,865.2 1382.5,867.7 1385.2,869.8 1388.2,871.7 1391.8,873.3 1394.3,875.0" stroke="#3a3a3a" stroke-width="3.1" fill="none"/>
<path d="M1357.6,849.4 1359.2,851.0 1360.8,854.6 1362.1,858.9 1364.4,861.2 1365.3,863.5 1366.9,868.0 1368.2,871.1 1369.9,874.0 1371.5,877.2 1373.6,881.2 1375.4,885.0 1377.6,888.3 1379.4,891.8 1381.4,896.1 1383.6,899.7 1385.3,903.3 1387.3,906.6 1388.6,909.4 1390.7,913.6 1393.0,916.7 1395.0,920.2 1397.1,925.0 1399.1,928.7 1401.2,931.7 1402.0,934.2 1402.0,938.8 1401.1,940.4M1357.5,845.4 1357.4,847.9 1357.2,851.7 1357.1,856.2 1357.5,860.1 1357.5,863.3 1357.7,865.5 1358.0,869.9 1357.8,874.4 1357.5,877.0 1357.4,880.9 1358.0,884.3 1357.2,888.5 1357.7,893.4 1357.3,896.9 1357.0,901.2 1356.2,904.6 1356.1,908.3 1354.8,912.2 1353.5,916.2 1352.9,919.2 1352.1,922.6 1351.5,926.3 1351.4,929.6 1352.4,933.3 1353.1,936.8 1353.7,940.3 1353.9,944.6 1354.0,948.1 1353.3,952.5 1353.3,956.3 1353.1,959.8 1352.2,965.8 1351.7,968.6" stroke="#3a3a3a" stroke-width="1.9" fill="none"/>
<path d="M1357.6,849.4 1359.2,851.0 1360.8,854.6 1362.1,858.9 1364.4,861.2 1365.3,863.5 1366.9,868.0 1368.2,871.1 1369.9,874.0 1371.5,877.2 1373.6,881.2 1375.4,885.0 1377.6,888.3 1379.4,891.8 1381.4,896.1M1357.5,845.4 1357.4,847.9 1357.2,851.7 1357.1,856.2 1357.5,860.1 1357.5,863.3 1357.7,865.5 1358.0,869.9 1357.8,874.4 1357.5,877.0 1357.4,880.9 1358.0,884.3 1357.2,888.5 1357.7,893.4 1357.3,896.9 1357.0,901.2 1356.2,904.6 1356.1,908.3" stroke="#3a3a3a" stroke-width="2.56" fill="none"/>
<path d="M1550.8,838.4 1547.4,837.6 1544.1,836.6 1539.4,835.4 1535.2,835.2 1530.7,836.0 1526.7,838.4 1522.4,839.2 1519.2,839.5 1514.9,839.5 1511.1,839.3 1506.8,838.2 1502.6,838.2 1499.3,837.6 1495.1,837.0 1491.6,836.1 1487.0,835.4 1484.1,834.9 1479.7,834.7 1475.3,834.4 1471.9,835.1 1468.4,834.9 1465.6,835.3" stroke="#a8a8a8" stroke-width="1.4" fill="none"/>
<path d="M1550.7,839.5 1548.2,839.8 1544.4,841.0 1540.0,842.5 1535.0,843.5 1531.7,843.6 1528.6,844.6 1525.1,844.6 1520.9,845.7 1516.5,846.2 1513.4,846.9 1509.2,847.2 1505.4,848.1 1501.6,848.0 1497.8,849.7 1493.5,850.5 1490.0,850.8 1487.7,849.7 1484.5,847.4 1482.0,843.2 1479.4,840.4 1476.3,839.9 1472.4,838.8 1467.8,839.5 1464.0,840.3 1460.6,841.2 1456.4,842.8 1453.1,844.8 1450.2,846.3M1552.2,838.3 1554.4,840.0 1557.4,841.6 1561.0,844.5 1563.6,846.2 1566.6,848.8 1570.4,850.9 1574.4,852.3 1577.8,852.3 1581.1,852.8 1585.0,853.1 1589.3,853.4 1593.1,852.6 1597.6,851.7 1600.7,850.9 1605.5,850.6 1609.1,849.0 1612.9,847.9 1617.5,847.3 1621.9,845.0 1625.2,843.8 1628.1,843.1" stroke="#8a8a8a" stroke-width="1.6" fill="none"/>
<path d="M1550.7,839.5 1548.2,839.8 1544.4,841.0 1540.0,842.5 1535.0,843.5 1531.7,843.6 1528.6,844.6 1525.1,844.6 1520.9,845.7 1516.5,846.2 1513.4,846.9 1509.2,847.2 1505.4,848.1 1501.6,848.0 1497.8,849.7M1552.2,838.3 1554.4,840.0 1557.4,841.6 1561.0,844.5 1563.6,846.2 1566.6,848.8 1570.4,850.9 1574.4,852.3 1577.8,852.3 1581.1,852.8 1585.0,853.1 1589.3,853.4" stroke="#8a8a8a" stroke-width="2.16" fill="none"/>
<path d="M1564.6,846.1 1567.6,847.6 1571.5,849.4 1576.9,851.2 1580.4,850.6 1583.8,850.0 1588.0,848.6 1591.8,848.3 1594.6,847.6" stroke="#8a8a8a" stroke-width="1.4" fill="none"/>
<path d="M1553.3,863.8 1554.3,866.8 1555.7,871.2 1557.2,876.9 1558.1,880.8 1559.4,885.1 1560.0,889.2 1561.1,892.1" stroke="#8a8a8a" stroke-width="1.3" fill="none"/>
<path d="M1550.1,840.6 1549.2,842.6 1546.7,846.9 1541.4,850.8 1540.2,852.7 1535.9,855.3 1533.4,857.9 1529.9,860.4 1526.5,861.6 1521.3,862.1 1517.4,862.0 1513.9,860.8 1508.8,860.3 1505.1,860.4 1500.4,859.3 1496.8,860.0 1493.2,858.9 1489.9,858.9 1487.1,859.2M1551.1,840.8 1548.7,842.3 1546.4,847.5 1542.9,850.2 1540.0,852.4 1536.1,855.1 1532.3,857.2 1527.7,858.0 1525.3,857.9 1521.6,858.5 1517.5,858.0 1514.3,856.2 1509.9,855.4 1507.3,855.5 1502.6,855.7 1497.7,855.2 1494.4,855.1 1489.5,855.8 1487.6,856.0M1550.9,842.4 1549.0,844.7 1547.8,849.1 1546.4,852.7 1542.8,855.3 1540.0,857.9 1537.7,858.8 1533.0,860.4 1528.2,860.8 1524.4,862.4 1521.6,862.8 1517.7,864.3 1512.0,864.6 1508.1,865.4 1505.3,865.8 1502.9,865.9M1550.7,842.3 1549.6,843.8 1547.9,847.5 1546.2,851.6 1543.1,854.0 1540.3,855.2 1536.5,856.7 1533.2,857.3 1528.2,858.4 1523.7,858.3 1520.9,858.8 1516.1,859.5 1511.5,859.5 1506.0,860.9 1502.4,860.9 1500.3,861.1M1535.5,860.1 1532.3,859.9 1529.1,860.2 1524.9,860.6 1521.2,861.6 1516.5,863.9 1512.3,864.5 1510.4,865.5 1507.2,866.8 1503.9,869.6 1499.8,870.6 1496.1,873.6 1492.8,874.9 1489.6,877.1 1485.6,879.3 1482.3,880.6 1478.3,882.8 1476.1,886.2 1471.3,887.9 1467.9,890.4 1465.0,892.5 1462.5,894.4 1460.9,895.1M1535.3,860.3 1532.4,861.0 1529.4,861.4 1525.1,862.3 1520.8,863.6 1516.3,865.2 1513.0,867.1 1509.2,867.7 1506.5,869.3 1502.3,871.4 1499.9,872.7 1495.2,875.0 1491.5,877.1 1487.6,878.3 1484.5,880.8 1481.6,883.1 1477.4,885.0 1474.2,887.9 1469.0,889.6 1465.5,891.9 1462.7,893.9 1460.7,895.6 1458.3,896.6M1551.2,846.9 1550.0,849.5 1548.9,853.4 1547.6,857.9 1544.2,862.2 1544.0,864.5 1541.9,867.7 1539.9,870.7 1537.2,873.9 1534.7,876.9 1531.9,879.2 1528.9,880.9 1523.7,883.8 1520.6,885.0 1515.9,886.4 1513.8,887.5M1551.4,847.6 1551.1,849.5 1551.3,852.6 1549.3,856.6 1549.0,861.6 1546.4,863.1 1546.3,867.8 1544.2,870.0 1541.6,873.5 1539.3,876.3 1538.0,879.4 1534.0,881.4 1530.9,882.7 1528.4,883.4 1525.3,884.4 1521.3,886.1 1518.8,887.2 1514.9,889.1 1513.0,892.2 1508.9,894.3 1506.8,896.0 1502.7,897.5 1499.1,901.4 1497.4,903.1 1493.8,906.2 1491.5,908.4 1488.0,912.5 1485.1,915.2 1482.5,919.1 1478.8,922.2 1477.6,924.6 1475.5,927.3 1473.1,928.2M1551.7,840.3 1553.9,841.7 1556.2,844.9 1558.7,848.6 1561.9,850.9 1563.6,852.9 1568.0,855.0 1570.9,856.9 1573.9,860.0 1576.9,862.4 1579.9,865.6 1581.7,868.6 1584.1,871.0 1586.5,875.3 1589.4,877.7 1591.1,881.5 1595.0,884.1 1598.6,888.4 1600.2,891.1 1602.5,892.8M1552.2,839.4 1553.3,841.9 1556.3,845.2 1559.7,847.6 1563.6,849.5 1566.4,851.1 1570.5,852.5 1574.4,854.5 1577.6,856.8 1579.9,859.3 1582.7,861.3 1585.0,864.5 1588.2,867.5 1590.5,871.7 1593.4,874.8 1595.4,877.5 1598.3,881.0 1600.5,883.5 1602.1,886.8 1604.5,890.0 1606.1,892.8 1609.1,895.4 1611.3,898.7 1613.1,900.3 1616.4,904.0 1618.1,905.4 1622.1,909.3 1625.7,910.9 1627.5,913.3 1631.1,916.3 1632.6,917.5M1567.7,856.5 1569.5,857.4 1570.5,861.4 1572.2,864.0 1574.9,868.7 1577.3,872.0 1580.6,875.7 1581.8,877.9 1584.1,881.6 1586.6,884.5 1589.8,887.3 1591.3,890.0 1594.6,892.6 1595.2,896.4 1597.8,898.8 1601.2,902.4 1601.4,906.7 1603.1,908.2M1566.7,856.1 1568.6,858.4 1571.9,860.1 1573.0,864.9 1575.8,867.5 1579.0,872.2 1581.0,874.9 1582.6,877.9 1586.4,882.5 1587.1,886.0 1589.7,888.1 1591.1,890.1M1552.2,839.6 1552.1,841.2 1550.8,845.2 1551.6,849.3 1550.4,854.0 1550.9,859.1 1549.4,861.2 1549.7,865.0 1547.7,867.7 1546.9,872.1 1546.4,874.9 1545.0,879.5 1544.2,882.6 1543.7,886.1 1543.3,890.7 1542.2,895.3 1541.5,899.3 1542.0,904.1 1540.5,908.4 1540.4,912.2 1539.5,914.5 1539.3,917.2M1550.7,838.6 1550.4,842.4 1551.2,844.6 1549.0,849.6 1549.4,854.4 1548.0,859.0 1547.4,862.3 1547.0,865.9 1546.1,868.6 1545.6,872.8 1546.0,876.1 1545.4,881.3 1543.5,885.3 1543.9,888.3 1542.6,892.0 1541.4,895.1 1541.2,899.6 1540.0,902.1 1539.1,906.4 1538.7,910.1 1539.0,913.4 1538.4,917.1 1537.2,920.7 1537.0,925.7 1536.9,929.8 1536.0,933.9 1536.5,938.4 1536.1,940.8 1535.7,943.2" stroke="#6e6e6e" stroke-width="1.2" fill="none"/>
<path d="M1551.2,840.5 1549.1,843.1 1546.1,846.5 1542.9,850.8 1540.7,852.9 1538.0,855.2 1534.4,857.4 1530.6,859.5 1528.0,861.3 1524.2,861.8 1521.1,860.8 1517.5,859.8 1513.6,859.5 1509.4,858.7 1506.3,857.8 1502.8,857.7 1498.6,857.5 1494.9,858.1 1491.3,858.0 1487.2,857.6 1483.2,858.3 1480.1,859.1 1475.8,859.5 1471.2,860.5 1468.3,861.8 1464.8,862.7 1459.1,863.2 1454.6,864.3 1450.4,865.6 1447.6,866.3" stroke="#5a5a5a" stroke-width="2.0" fill="none"/>
<path d="M1551.2,840.5 1549.1,843.1 1546.1,846.5 1542.9,850.8 1540.7,852.9 1538.0,855.2 1534.4,857.4 1530.6,859.5 1528.0,861.3 1524.2,861.8 1521.1,860.8 1517.5,859.8 1513.6,859.5 1509.4,858.7 1506.3,857.8 1502.8,857.7" stroke="#5a5a5a" stroke-width="2.7" fill="none"/>
<path d="M1550.7,844.4 1550.2,847.6 1548.1,852.9 1545.7,856.9 1543.1,859.6 1540.0,861.8 1536.7,863.6 1533.0,865.4 1528.6,868.0 1525.5,869.0 1522.2,871.3 1519.7,873.0 1516.5,875.4 1512.5,877.1 1509.6,879.3 1506.2,881.1 1502.5,883.9 1498.6,887.0 1494.8,889.7 1492.3,891.5 1490.1,893.4M1551.1,851.3 1551.1,853.3 1551.1,855.3 1551.5,858.4 1551.9,862.5 1552.4,866.9 1552.3,870.3 1553.0,874.9 1553.1,878.8 1553.5,882.5 1553.9,886.1 1554.6,889.7 1555.6,894.2 1555.6,897.4 1556.9,901.2 1558.3,904.9 1559.0,908.6 1559.6,911.2 1560.1,915.5 1559.8,919.2 1560.2,922.8 1561.1,926.1 1560.7,930.0 1561.3,933.7 1560.9,937.0 1561.0,941.1 1560.3,944.4 1559.8,949.4 1559.8,953.2 1558.7,958.2 1557.9,962.6 1557.2,966.7 1556.4,969.5 1555.9,972.0M1549.8,856.9 1549.2,860.0 1548.9,863.6 1548.2,870.1 1547.8,872.6 1546.7,875.7 1546.0,879.2 1545.5,882.8 1544.9,887.3 1544.4,891.0 1543.5,894.7 1543.2,899.1 1543.1,902.0 1542.4,905.9 1542.9,909.6 1543.2,913.2 1542.4,916.4 1543.0,920.6 1543.2,923.6 1543.1,927.4 1544.0,931.0 1544.1,934.7 1545.3,938.5 1545.4,942.8 1546.5,947.0 1547.9,951.6 1548.8,955.4 1549.6,959.9 1551.0,962.4 1551.4,964.9" stroke="#5a5a5a" stroke-width="1.6" fill="none"/>
<path d="M1550.7,844.4 1550.2,847.6 1548.1,852.9 1545.7,856.9 1543.1,859.6 1540.0,861.8 1536.7,863.6 1533.0,865.4 1528.6,868.0 1525.5,869.0 1522.2,871.3M1551.1,851.3 1551.1,853.3 1551.1,855.3 1551.5,858.4 1551.9,862.5 1552.4,866.9 1552.3,870.3 1553.0,874.9 1553.1,878.8 1553.5,882.5 1553.9,886.1 1554.6,889.7 1555.6,894.2 1555.6,897.4 1556.9,901.2 1558.3,904.9 1559.0,908.6 1559.6,911.2M1549.8,856.9 1549.2,860.0 1548.9,863.6 1548.2,870.1 1547.8,872.6 1546.7,875.7 1546.0,879.2 1545.5,882.8 1544.9,887.3 1544.4,891.0 1543.5,894.7 1543.2,899.1 1543.1,902.0 1542.4,905.9 1542.9,909.6 1543.2,913.2" stroke="#5a5a5a" stroke-width="2.16" fill="none"/>
<path d="M1567.6,855.6 1568.6,857.6 1570.7,860.8 1572.8,863.8 1574.9,866.9 1577.7,870.7 1579.3,873.5 1581.3,876.3 1584.4,879.9 1586.9,884.1 1589.5,887.4 1591.3,890.2 1593.5,893.2 1596.3,898.0 1598.8,901.7 1601.0,905.0" stroke="#5a5a5a" stroke-width="1.8" fill="none"/>
<path d="M1567.6,855.6 1568.6,857.6 1570.7,860.8 1572.8,863.8 1574.9,866.9 1577.7,870.7 1579.3,873.5 1581.3,876.3" stroke="#5a5a5a" stroke-width="2.43" fill="none"/>
<path d="M1552.6,841.5 1553.4,844.0 1556.5,846.9 1558.6,851.0 1560.8,854.5 1562.9,857.8 1565.4,860.7 1567.8,863.3 1570.0,866.8 1571.5,869.9 1572.6,874.1 1574.2,877.7 1574.7,880.7 1576.2,885.6 1576.8,889.5 1577.2,892.3 1577.3,896.3 1577.6,899.3 1578.7,903.1 1578.3,906.4 1579.1,910.6 1579.3,915.2 1579.2,918.2 1578.8,922.5 1579.3,926.3 1578.5,929.8 1578.7,934.5 1578.3,938.6 1577.6,942.2 1577.4,945.9 1577.1,948.9 1577.4,951.9 1577.2,954.0" stroke="#5a5a5a" stroke-width="1.4" fill="none"/>
<path d="M1552.0,848.1 1552.2,850.4 1553.0,852.9 1554.2,856.9 1555.2,860.1 1556.3,864.3 1557.9,869.1 1558.7,872.7 1560.4,876.0 1561.0,878.7 1562.6,883.7 1564.3,886.7 1565.7,890.5 1566.2,893.4 1567.0,897.0 1567.9,901.1 1568.9,905.8 1568.9,911.5 1569.6,914.8 1569.5,917.9" stroke="#5a5a5a" stroke-width="1.5" fill="none"/>
<path d="M1541.3,883.5 1539.3,885.0 1537.2,888.7 1533.4,891.9 1530.3,895.1 1528.8,897.2M1541.7,897.4 1539.5,898.7 1536.4,901.8 1532.8,904.2 1529.5,906.8 1527.5,908.8M1540.6,908.4 1538.4,910.3 1535.9,912.7 1532.4,915.4 1528.9,918.2 1525.5,920.5 1522.7,923.2 1521.1,924.3M1538.8,922.1 1537.1,924.4 1533.5,928.3 1530.0,931.7 1527.5,934.6" stroke="#5a5a5a" stroke-width="1.3" fill="none"/>
<path d="M1550.3,842.2 1549.7,844.7 1549.3,847.5 1547.2,851.4 1544.2,855.0 1541.8,856.1 1538.1,858.0 1534.2,858.9 1530.0,860.5 1526.5,861.9 1522.6,862.2 1518.9,862.6 1514.6,862.3 1511.2,862.7 1507.5,862.9 1503.2,863.8 1499.8,865.5 1497.4,867.0 1494.2,869.2 1490.7,871.4 1487.2,873.7 1483.2,876.2 1480.2,878.4 1477.6,880.4 1473.5,883.1 1470.4,886.1 1466.9,888.9 1463.3,891.2 1459.6,894.1 1456.8,896.2 1455.3,897.2" stroke="#3a3a3a" stroke-width="2.5" fill="none"/>
<path d="M1550.3,842.2 1549.7,844.7 1549.3,847.5 1547.2,851.4 1544.2,855.0 1541.8,856.1 1538.1,858.0 1534.2,858.9 1530.0,860.5 1526.5,861.9 1522.6,862.2 1518.9,862.6 1514.6,862.3 1511.2,862.7 1507.5,862.9 1503.2,863.8 1499.8,865.5" stroke="#3a3a3a" stroke-width="3.38" fill="none"/>
<path d="M1534.9,859.7 1533.3,860.2 1529.5,860.8 1525.8,861.4 1521.4,862.5 1516.8,863.5 1514.7,864.4 1511.0,865.9 1507.7,867.8 1504.8,869.8 1500.6,871.3 1497.2,872.5 1493.4,874.5 1490.0,877.1 1487.2,878.0 1483.5,880.2 1479.5,882.9 1475.6,884.9 1472.9,886.3 1469.0,889.2 1465.7,890.5 1463.4,892.6 1461.8,893.4M1551.2,846.9 1550.3,849.7 1549.5,853.3 1548.5,857.3 1547.2,860.6 1545.6,863.8 1543.5,867.2 1541.1,871.0 1538.2,874.1 1535.8,876.5 1532.5,878.1 1528.4,880.0 1525.0,881.4 1521.4,882.2 1517.1,884.2 1514.2,886.4 1512.0,887.9 1508.8,889.4 1506.1,892.1 1502.5,894.8 1499.8,896.6 1496.6,899.5 1493.5,902.1 1491.1,905.6 1487.7,908.3 1485.1,911.4 1482.3,915.0 1479.2,917.6 1476.5,920.6 1474.0,923.2 1472.7,924.9" stroke="#3a3a3a" stroke-width="2.0" fill="none"/>
<path d="M1534.9,859.7 1533.3,860.2 1529.5,860.8 1525.8,861.4 1521.4,862.5 1516.8,863.5 1514.7,864.4 1511.0,865.9 1507.7,867.8 1504.8,869.8 1500.6,871.3 1497.2,872.5M1551.2,846.9 1550.3,849.7 1549.5,853.3 1548.5,857.3 1547.2,860.6 1545.6,863.8 1543.5,867.2 1541.1,871.0 1538.2,874.1 1535.8,876.5 1532.5,878.1 1528.4,880.0 1525.0,881.4 1521.4,882.2 1517.1,884.2 1514.2,886.4 1512.0,887.9" stroke="#3a3a3a" stroke-width="2.7" fill="none"/>
<path d="M1551.6,839.3 1553.1,842.3 1555.1,845.1 1558.8,848.2 1560.7,850.6 1564.6,852.4 1567.6,854.5 1571.1,857.4 1573.5,860.1 1576.8,862.1 1578.8,864.8 1582.3,868.4 1584.6,871.1 1586.5,873.6 1589.4,877.3 1591.9,879.7 1594.5,883.2 1597.6,886.0 1599.7,889.3 1602.1,891.9 1604.2,895.3 1606.0,897.9 1608.6,900.3 1609.8,903.4 1612.7,906.3 1614.9,908.6 1618.8,912.4 1621.3,914.7 1624.6,917.6 1626.8,919.6 1628.8,921.7" stroke="#3a3a3a" stroke-width="2.1" fill="none"/>
<path d="M1551.6,839.3 1553.1,842.3 1555.1,845.1 1558.8,848.2 1560.7,850.6 1564.6,852.4 1567.6,854.5 1571.1,857.4 1573.5,860.1 1576.8,862.1 1578.8,864.8 1582.3,868.4 1584.6,871.1 1586.5,873.6 1589.4,877.3 1591.9,879.7 1594.5,883.2" stroke="#3a3a3a" stroke-width="2.84" fill="none"/>
<path d="M1551.7,839.3 1550.9,841.2 1551.6,844.4 1551.1,848.5 1551.0,853.0 1549.9,856.9 1549.6,860.8 1549.9,864.1 1548.6,867.6 1548.2,871.4 1547.8,874.7 1547.1,879.4 1546.6,882.7 1546.0,886.2 1545.8,889.6 1545.4,894.0 1545.0,897.5 1543.7,901.2 1543.5,904.5 1543.2,908.1 1542.5,912.1 1541.9,915.7 1540.8,919.1 1540.6,923.4 1539.8,926.9 1539.1,930.7 1539.0,933.4 1538.6,937.8 1537.4,941.3 1538.0,944.8 1537.3,949.6 1537.5,953.9 1537.5,957.4 1537.5,961.8 1536.8,964.3 1537.2,966.9" stroke="#3a3a3a" stroke-width="1.9" fill="none"/>
<path d="M1551.7,839.3 1550.9,841.2 1551.6,844.4 1551.1,848.5 1551.0,853.0 1549.9,856.9 1549.6,860.8 1549.9,864.1 1548.6,867.6 1548.2,871.4 1547.8,874.7 1547.1,879.4 1546.6,882.7 1546.0,886.2 1545.8,889.6 1545.4,894.0 1545.0,897.5 1543.7,901.2 1543.5,904.5" stroke="#3a3a3a" stroke-width="2.56" fill="none"/>
<path d="M1709.2,890.3 1712.5,887.2 1716.9,884.3 1719.3,881.9 1720.6,880.6" stroke="#8a8a8a" stroke-width="1.3" fill="none"/>
<path d="M1694.6,953.6 1696.4,956.2 1699.9,960.4 1702.2,962.8M1691.8,959.0 1694.4,963.0 1696.6,966.2" stroke="#8a8a8a" stroke-width="1.2" fill="none"/>
<path d="M1702.0,891.7 1698.7,892.2 1693.9,891.3 1688.1,891.7 1684.7,892.0 1680.7,892.7 1677.2,894.9 1672.9,896.8 1669.2,897.6 1666.3,900.1 1661.7,903.4 1658.6,905.1 1656.6,907.6M1702.0,891.2 1698.8,892.6 1695.6,892.9 1691.2,893.1 1686.4,894.3 1683.4,894.9 1679.0,894.9 1675.2,896.5 1671.3,896.1 1668.6,897.4 1665.2,900.6 1662.3,904.2 1657.8,905.9 1655.0,909.7 1651.1,911.2 1648.0,912.4 1644.9,913.7 1641.3,914.4 1636.7,913.8M1701.7,892.3 1699.6,893.2 1696.9,895.4 1692.5,897.5 1688.7,898.4 1684.8,899.4 1680.7,902.3 1678.6,903.1 1675.9,904.5 1672.8,907.4 1669.8,909.3 1665.4,911.8 1662.3,913.0 1659.4,916.8 1655.2,917.9 1653.4,920.0M1702.2,893.3 1699.2,893.0 1695.5,895.2 1690.9,897.1 1686.7,897.7 1683.3,899.5 1678.7,901.2 1675.2,901.7 1673.0,903.1 1669.9,905.1 1665.6,905.7 1662.4,907.9 1658.0,911.8 1655.2,913.4 1651.9,915.5M1702.7,893.9 1700.8,895.9 1697.3,897.5 1693.3,900.1 1690.8,900.9 1686.3,904.5 1684.1,906.7 1678.9,908.5 1676.1,911.4 1672.3,913.2 1670.4,914.8 1666.1,917.6 1662.6,919.4 1660.3,921.4 1661.4,924.7 1663.3,928.8 1659.1,929.0 1653.7,928.2 1649.9,929.9 1647.5,930.9M1702.3,894.0 1699.5,894.9 1697.4,896.8 1694.0,899.6 1691.4,902.6 1688.6,904.0 1684.8,907.6 1681.5,909.7 1677.4,912.4 1673.6,914.1 1671.3,914.9 1665.3,918.2 1661.7,920.4 1663.2,925.9 1662.9,928.7 1660.4,931.1 1654.9,929.8 1651.0,930.9 1648.6,931.9M1702.9,895.8 1699.5,897.1 1695.4,900.3 1692.4,904.8 1688.8,906.4 1685.8,909.0 1683.3,911.6 1679.9,915.5 1676.7,917.0 1673.9,920.0 1671.6,923.2 1668.7,927.1 1665.2,930.0 1663.5,931.3 1659.7,934.6 1655.9,937.0 1653.9,939.1M1701.9,894.8 1700.0,897.8 1698.4,900.2 1695.4,902.2 1692.0,905.3 1689.9,907.9 1686.7,912.1 1684.3,914.3 1680.8,917.6 1679.3,920.8 1675.6,923.4 1673.1,926.9 1669.9,929.0 1667.2,931.0 1665.9,933.6M1703.3,891.9 1704.2,894.0 1707.8,897.3 1710.0,900.4 1713.4,903.5 1714.2,906.4 1716.6,909.8 1719.0,913.2 1721.6,916.8 1723.0,919.3 1726.8,923.0 1728.9,926.9 1731.2,930.4 1733.7,932.4M1702.5,892.2 1704.5,894.6 1706.8,896.8 1711.1,899.5 1712.8,901.8 1715.0,904.8 1717.2,907.9 1719.2,910.9 1721.6,913.9 1723.7,915.4 1727.3,920.0 1729.4,921.7 1731.3,926.5 1733.2,929.1 1735.4,931.7 1738.4,935.6 1741.5,939.0 1743.4,941.1M1704.0,893.3 1704.3,895.4 1707.4,899.3 1709.9,903.1 1712.7,906.0 1712.7,909.4 1715.0,913.1 1715.3,915.4 1716.9,919.0 1718.6,922.3 1720.5,925.7 1721.4,931.0 1724.0,934.2 1725.7,938.6 1727.2,941.5 1728.0,945.6 1731.4,949.9 1732.0,954.5 1734.2,956.9M1703.7,893.7 1704.0,895.5 1706.3,897.9 1708.6,901.3 1711.8,905.1 1713.8,909.7 1715.2,913.0 1718.2,916.9 1720.0,920.8 1721.2,923.8 1723.1,927.2 1725.6,931.1 1727.3,935.6 1729.0,938.6 1730.3,942.8 1732.2,947.3 1733.4,950.8 1733.8,954.1M1703.9,894.0 1704.4,898.1 1706.5,902.1 1707.8,906.5 1709.2,909.7 1711.0,913.0 1712.4,916.9 1713.1,920.8 1714.5,923.6 1717.3,927.6 1719.5,929.8 1722.6,934.0 1724.3,936.9 1726.0,940.2 1728.4,944.7 1728.6,949.4 1730.6,952.9 1730.8,956.4M1703.6,893.9 1704.3,897.7 1705.5,901.0 1707.1,905.5 1708.5,910.5 1708.1,913.7 1709.0,916.8 1710.2,921.1 1711.2,925.1 1713.1,929.6 1715.3,932.3 1718.1,935.9 1719.5,939.3 1722.0,943.2 1723.0,946.1 1725.0,950.0 1725.6,952.3 1726.3,957.1 1725.7,959.9 1724.8,964.5 1724.7,969.0 1722.9,973.6 1722.2,976.7 1718.8,980.7 1716.9,981.8M1702.7,891.7 1703.0,895.4 1703.0,898.8 1703.3,903.0 1702.2,906.9 1703.1,911.1 1702.9,913.3 1702.1,918.2 1700.8,920.6 1699.2,924.5 1698.6,928.5 1696.5,932.0 1695.6,935.9 1693.2,939.1 1692.6,942.4 1691.4,946.1 1690.1,950.2 1688.8,955.0 1688.0,958.8 1687.7,962.4 1686.7,966.3 1686.5,968.8M1702.6,891.6 1702.5,895.6 1702.4,900.0 1701.8,903.7 1702.4,907.2 1703.1,912.4 1703.8,915.9 1704.1,920.5 1703.1,924.5 1701.5,927.2 1699.3,932.1 1697.8,935.1 1696.4,938.8 1695.8,943.6 1693.9,947.4 1692.9,950.8 1692.5,953.9 1691.8,957.2 1691.5,961.4 1689.8,964.3 1689.5,968.1 1689.3,970.5 1687.4,975.0 1687.8,980.0 1687.0,984.5 1685.3,988.1 1685.8,991.2 1684.7,993.4" stroke="#6e6e6e" stroke-width="1.2" fill="none"/>
<path d="M1702.0,896.7 1699.7,898.7 1696.7,903.4 1694.6,905.8 1692.9,909.6 1690.2,913.0 1687.5,916.7 1685.6,920.0 1683.0,923.4 1680.8,926.4 1678.8,929.2 1676.7,933.1 1674.9,935.8 1672.6,938.9 1672.0,942.9 1670.1,946.0 1669.0,948.9 1667.7,953.0 1666.1,956.3 1665.1,959.6 1664.0,962.9 1663.8,967.0 1662.3,971.1 1661.8,974.8 1660.8,978.2 1660.8,980.7M1702.1,899.5 1702.1,901.7 1701.1,904.9 1699.0,908.7 1697.3,911.9 1695.3,914.5 1693.5,917.5 1691.6,921.4 1689.4,924.5 1687.9,928.4 1685.5,931.5 1683.8,934.9 1682.2,938.3 1680.0,942.1 1678.0,945.3 1676.5,948.4 1674.0,953.3 1672.6,957.1 1671.3,960.8 1669.7,963.9" stroke="#5a5a5a" stroke-width="1.4" fill="none"/>
<path d="M1702.7,903.5 1702.5,906.6 1701.8,911.0 1700.7,917.3 1699.8,919.7 1699.3,923.7 1697.3,926.9 1696.2,931.1 1694.4,933.9 1692.4,937.0 1689.3,940.4 1686.4,942.0 1682.1,944.2 1679.9,946.1 1677.6,947.2" stroke="#5a5a5a" stroke-width="1.5" fill="none"/>
<path d="M1692.2,950.1 1688.8,951.4 1683.3,952.7 1679.8,953.3" stroke="#5a5a5a" stroke-width="1.3" fill="none"/>
<path d="M1703.0,897.8 1703.8,900.7 1704.8,905.1 1704.8,909.6 1705.9,914.9 1705.8,918.5 1705.5,921.6 1705.4,925.7 1705.2,929.4 1705.8,932.7 1706.3,936.2 1708.7,939.1 1710.7,941.7 1712.3,945.4 1714.5,948.5 1716.0,951.9 1717.6,956.3 1719.3,960.0 1720.0,962.8" stroke="#5a5a5a" stroke-width="1.7" fill="none"/>
<path d="M1703.0,897.8 1703.8,900.7 1704.8,905.1 1704.8,909.6 1705.9,914.9 1705.8,918.5 1705.5,921.6 1705.4,925.7 1705.2,929.4 1705.8,932.7" stroke="#5a5a5a" stroke-width="2.29" fill="none"/>
<path d="M1702.0,891.6 1699.9,891.9 1696.3,891.7 1692.3,892.2 1687.7,892.8 1684.0,892.7 1680.9,894.3 1677.0,895.1 1672.6,895.8 1670.0,896.9 1665.8,899.3 1662.9,901.8 1658.8,904.5 1656.7,907.0 1653.4,909.5 1650.5,911.6 1647.5,912.1 1641.9,913.5 1638.4,913.1" stroke="#3a3a3a" stroke-width="2.3" fill="none"/>
<path d="M1702.0,891.6 1699.9,891.9 1696.3,891.7 1692.3,892.2 1687.7,892.8 1684.0,892.7 1680.9,894.3 1677.0,895.1 1672.6,895.8 1670.0,896.9" stroke="#3a3a3a" stroke-width="3.1" fill="none"/>
<path d="M1702.2,892.9 1699.8,894.0 1696.1,894.7 1691.9,895.8 1687.3,897.7 1682.8,899.5 1680.0,900.2 1676.8,902.6 1673.5,903.7 1670.7,906.6 1667.9,907.8 1664.7,909.7 1661.6,911.9 1658.7,914.0 1655.7,916.2 1652.7,918.5 1649.9,919.9 1646.3,921.2 1642.9,922.0 1639.3,923.5 1635.6,926.1 1632.4,928.9 1629.5,930.4M1702.5,893.6 1700.2,895.2 1697.1,897.0 1693.5,899.3 1690.3,901.1 1686.8,903.7 1683.1,905.9 1679.8,908.3 1676.0,910.8 1672.9,912.7 1669.4,914.5 1665.2,917.1 1662.3,918.9 1659.9,921.5 1660.5,925.9 1661.8,929.0 1658.2,930.4 1653.2,930.3 1648.5,931.0 1645.1,930.9" stroke="#3a3a3a" stroke-width="2.0" fill="none"/>
<path d="M1702.2,892.9 1699.8,894.0 1696.1,894.7 1691.9,895.8 1687.3,897.7 1682.8,899.5 1680.0,900.2 1676.8,902.6 1673.5,903.7 1670.7,906.6 1667.9,907.8 1664.7,909.7M1702.5,893.6 1700.2,895.2 1697.1,897.0 1693.5,899.3 1690.3,901.1 1686.8,903.7 1683.1,905.9 1679.8,908.3 1676.0,910.8 1672.9,912.7 1669.4,914.5" stroke="#3a3a3a" stroke-width="2.7" fill="none"/>
<path d="M1701.9,895.0 1700.7,897.6 1698.5,900.4 1695.1,904.1 1692.5,907.2 1689.8,909.9 1686.8,912.3 1684.5,914.9 1681.6,918.0 1678.3,920.0 1676.5,923.7 1674.1,926.6 1672.1,929.4 1670.0,932.6 1668.0,935.1 1663.0,938.6 1659.9,941.5 1656.9,943.2" stroke="#3a3a3a" stroke-width="2.4" fill="none"/>
<path d="M1701.9,895.0 1700.7,897.6 1698.5,900.4 1695.1,904.1 1692.5,907.2 1689.8,909.9 1686.8,912.3 1684.5,914.9 1681.6,918.0" stroke="#3a3a3a" stroke-width="3.24" fill="none"/>
<path d="M1703.6,892.3 1705.7,894.0 1708.2,897.0 1711.2,899.8 1714.7,903.6 1716.8,906.5 1719.2,908.9 1721.4,912.5 1723.8,914.7 1725.3,917.7 1727.5,920.8 1730.3,923.9 1732.5,927.0 1735.0,929.5 1736.3,932.8 1739.8,935.7 1743.6,939.6 1745.5,943.2 1747.3,946.6 1748.2,951.8 1748.6,955.0M1703.6,893.5 1704.6,896.2 1707.4,899.1 1710.3,903.3 1711.9,906.5 1713.7,909.7 1715.0,913.4 1716.6,917.2 1718.4,919.9 1720.1,923.8 1721.7,927.5 1723.6,931.3 1725.4,934.4 1727.5,938.0 1728.8,942.0 1730.5,946.1 1732.3,949.6 1733.8,953.3 1735.0,956.8 1735.6,962.5 1735.4,966.3 1735.1,969.5M1702.9,895.1 1703.5,897.0 1705.6,901.0 1706.3,904.7 1707.4,908.7 1709.3,912.7 1710.3,915.3 1711.1,919.2 1712.8,922.7 1714.9,926.2 1716.2,928.8 1718.9,932.2 1720.5,936.1 1722.7,938.9 1725.0,942.5 1726.6,946.9 1727.6,950.8 1728.4,954.9 1728.6,959.5 1729.2,963.8 1727.5,968.9 1727.1,972.6 1726.1,976.4 1722.9,979.1 1721.2,980.7M1702.7,892.2 1703.4,895.2 1702.8,898.6 1702.7,902.8 1703.3,907.3 1704.1,911.1 1703.6,914.7 1703.7,920.8 1702.3,922.8 1701.7,926.2 1700.2,929.9 1699.5,933.3 1698.1,937.7 1696.7,941.0 1695.2,944.9 1694.5,947.9 1693.7,952.6 1692.1,956.1 1692.1,959.8 1691.6,963.4 1690.8,967.0 1689.8,970.2 1689.4,974.3 1688.6,978.8 1687.1,983.1 1686.9,986.2 1686.0,990.6 1685.7,993.1 1684.0,998.3 1683.1,1000.0" stroke="#3a3a3a" stroke-width="1.8" fill="none"/>
<path d="M1703.6,892.3 1705.7,894.0 1708.2,897.0 1711.2,899.8 1714.7,903.6 1716.8,906.5 1719.2,908.9 1721.4,912.5 1723.8,914.7 1725.3,917.7 1727.5,920.8M1703.6,893.5 1704.6,896.2 1707.4,899.1 1710.3,903.3 1711.9,906.5 1713.7,909.7 1715.0,913.4 1716.6,917.2 1718.4,919.9 1720.1,923.8 1721.7,927.5 1723.6,931.3M1702.9,895.1 1703.5,897.0 1705.6,901.0 1706.3,904.7 1707.4,908.7 1709.3,912.7 1710.3,915.3 1711.1,919.2 1712.8,922.7 1714.9,926.2 1716.2,928.8 1718.9,932.2 1720.5,936.1M1702.7,892.2 1703.4,895.2 1702.8,898.6 1702.7,902.8 1703.3,907.3 1704.1,911.1 1703.6,914.7 1703.7,920.8 1702.3,922.8 1701.7,926.2 1700.2,929.9 1699.5,933.3 1698.1,937.7 1696.7,941.0 1695.2,944.9 1694.5,947.9" stroke="#3a3a3a" stroke-width="2.43" fill="none"/>
<path d="M1732.1,927.2 1729.1,929.8 1726.8,931.5" stroke="#3a3a3a" stroke-width="1.4" fill="none"/>
<path d="M1536.6,922.0 1537.0,924.4 1536.7,928.0 1536.5,932.0 1536.9,936.4 1536.7,940.0 1536.9,943.8 1537.7,946.5 1538.2,950.5 1538.3,954.0 1538.1,957.9 1538.5,960.9 1538.4,963.9 1538.3,967.0 1538.7,970.5 1538.8,973.9 1538.9,978.0 1538.9,982.6 1539.4,989.0 1539.3,991.4 1538.9,994.0 1538.9,997.0 1539.3,1000.6 1539.3,1004.1 1539.4,1008.1 1538.6,1011.4 1539.3,1015.4 1539.4,1019.3 1538.6,1023.5 1539.2,1027.1 1538.7,1031.2 1539.4,1035.4 1538.8,1038.9 1538.9,1042.5 1539.5,1046.2 1539.5,1050.0 1539.3,1053.5 1539.5,1056.6 1539.7,1059.3 1540.4,1064.1 1541.7,1069.1 1542.1,1073.6 1543.1,1077.3 1544.6,1081.4 1545.1,1085.3 1546.2,1088.1 1547.6,1091.3 1548.0,1094.1 1548.4,1097.3 1548.9,1099.8 1549.1,1105.1 1548.7,1108.5 1547.0,1111.3 1544.8,1113.6 1543.5,1117.2 1540.4,1120.0 1538.1,1123.8 1535.3,1126.5 1534.0,1128.0" stroke="#6a6a6a" stroke-width="1.05" fill="none"/>
<path d="M1697.6,928.1 1697.4,929.9 1696.5,932.9 1696.2,936.5 1695.9,940.1 1695.1,944.3 1694.0,948.6 1693.2,953.7 1692.2,958.6 1691.7,961.4 1691.2,964.3 1690.9,967.2 1689.5,971.3 1689.1,974.1 1688.7,978.4 1687.2,981.6 1686.4,985.3 1685.9,988.9 1685.2,992.7 1684.1,997.2 1683.6,1000.8 1683.1,1004.8 1682.4,1008.5 1682.3,1012.5 1682.1,1015.6 1681.3,1018.8 1681.3,1022.5 1680.6,1025.7 1680.6,1029.5 1680.7,1033.1 1679.9,1036.9 1680.1,1040.3 1679.7,1043.9 1679.7,1047.9 1679.3,1051.4 1679.1,1055.1 1678.8,1058.4 1678.8,1062.4 1678.4,1065.8 1678.2,1069.3 1678.1,1073.4 1677.8,1077.2 1677.2,1081.0 1677.0,1084.3 1676.9,1088.9 1675.9,1092.3 1676.2,1096.3 1675.3,1100.0 1674.8,1104.4 1675.1,1108.5 1674.4,1111.4 1673.9,1115.5 1673.9,1118.8 1673.1,1121.9 1672.9,1124.9 1672.5,1127.9 1672.7,1129.8 1671.4,1137.2 1670.6,1142.0 1670.2,1145.1 1669.9,1147.1 1669.3,1149.3" stroke="#6a6a6a" stroke-width="1.05" fill="none"/>
</g>
<g filter="url(#b1)" stroke-linecap="round" stroke-linejoin="round">
<g transform="translate(1095,700) scale(0.197746)">
<path d="M470,275 C 520,330 560,400 575,470 C 585,560 588,650 595,725 M595,470 C 600,440 610,420 625,400 M580,500 C 560,480 545,470 520,465" fill="none" stroke="#262626" stroke-width="13"/>
<path d="M316,418 C 305,350 325,275 378,238 C 420,218 470,232 497,266 C 488,290 470,300 452,312 C 438,335 425,370 400,395 C 380,415 355,432 335,432 C 325,430 318,425 316,418 Z" fill="#262626" stroke="#262626" stroke-width="6"/>
<path d="M600,270 C 640,255 680,270 690,320 C 740,340 760,390 740,430 C 710,455 660,440 625,425 C 600,380 590,320 600,270 Z" fill="#262626" stroke="#262626" stroke-width="4"/>
<path d="M442,480 C 470,445 520,440 570,470 C 585,500 580,540 560,552 C 530,560 510,540 500,520 C 480,510 455,500 442,480 Z" fill="#333" stroke="#333" stroke-width="4"/>
<path d="M1450,350 C 1420,420 1380,520 1360,600 C 1345,650 1335,690 1328,725 M1400,470 C 1380,450 1365,440 1345,430" fill="none" stroke="#262626" stroke-width="13"/>
<path d="M1358,150 C 1380,135 1400,160 1420,200 C 1445,250 1470,310 1482,345 C 1470,375 1450,365 1435,340 C 1400,300 1365,240 1358,190 Z" fill="#262626" stroke="#262626" stroke-width="4"/>
<path d="M1238,440 C 1240,390 1300,350 1358,355 C 1370,400 1340,450 1300,468 C 1270,475 1245,465 1238,440 Z" fill="#262626" stroke="#262626" stroke-width="4"/>
<path d="M1340,560 C 1335,490 1370,440 1420,430 C 1440,440 1450,440 1465,418 C 1500,420 1520,470 1528,530 C 1530,590 1500,640 1480,650 C 1460,670 1440,690 1420,685 C 1390,670 1360,670 1350,640 C 1345,610 1342,590 1340,560 Z" fill="#282828" stroke="#282828" stroke-width="4"/>
</g>
<g transform="translate(1440,695) scale(0.202069)">
<path d="M455,215 C 480,280 500,350 515,430 C 535,520 545,620 548,715 M520,450 C 500,430 480,420 450,415 M528,450 C 540,420 555,400 575,385" fill="none" stroke="#262626" stroke-width="12"/>
<path d="M338,150 L470,150 L522,185 L462,215 L435,290 L405,300 L382,232 L335,312 L320,285 Z" fill="#262626" stroke="#262626" stroke-width="5"/>
<path d="M558,290 C 580,270 620,285 665,305 C 665,340 680,360 685,385 C 670,410 630,410 600,395 C 570,370 560,330 558,290 Z" fill="#262626" stroke="#262626" stroke-width="5"/>
<path d="M340,440 C 350,400 400,370 435,375 C 450,420 445,470 420,500 C 400,520 385,520 375,515 C 370,490 345,470 340,440 Z" fill="#262626" stroke="#262626" stroke-width="5"/>
<path d="M1350,280 C 1380,340 1400,420 1400,500 C 1395,600 1375,700 1350,780 C 1330,850 1310,910 1300,965 M1395,510 C 1380,480 1370,470 1355,460 M1405,500 C 1415,470 1425,450 1440,430" fill="none" stroke="#262626" stroke-width="12"/>
<path d="M1310,65 C 1370,60 1420,110 1425,180 C 1430,240 1400,280 1370,300 C 1340,330 1300,335 1280,310 C 1240,300 1215,270 1210,230 C 1190,190 1200,130 1230,100 C 1250,75 1280,65 1310,65 Z" fill="#2b2b2b" stroke="#2b2b2b" stroke-width="5"/>
<path d="M1365,338 L1500,352 L1505,385 C 1540,410 1560,450 1555,485 C 1540,495 1520,480 1500,455 L1440,430 L1420,470 L1390,440 Z" fill="#262626" stroke="#262626" stroke-width="5"/>
<path d="M1262,465 C 1270,430 1320,415 1372,440 C 1375,480 1360,520 1330,528 C 1310,520 1305,490 1295,480 C 1280,478 1268,475 1262,465 Z" fill="#262626" stroke="#262626" stroke-width="5"/>
</g>
</g>
<text transform="translate(1176.40,1059.90) scale(0.8650,1)" font-size="29.8" text-anchor="start" fill="#000" font-family="Liberation Sans, Arial, sans-serif" font-weight="bold" >43</text>
<text transform="translate(1334.00,1059.90) scale(0.8650,1)" font-size="29.8" text-anchor="start" fill="#000" font-family="Liberation Sans, Arial, sans-serif" font-weight="bold" >61</text>
<text transform="translate(1505.80,1059.90) scale(0.8650,1)" font-size="29.8" text-anchor="start" fill="#000" font-family="Liberation Sans, Arial, sans-serif" font-weight="bold" >69</text>
<text transform="translate(1692.40,1059.90) scale(0.8650,1)" font-size="29.8" text-anchor="start" fill="#000" font-family="Liberation Sans, Arial, sans-serif" font-weight="bold" >72</text>
<text transform="translate(1106.60,1119.10) scale(0.6310,1)" font-size="49.3" text-anchor="start" fill="#000" font-family="Liberation Sans, Arial, sans-serif" font-weight="bold" >E</text>
<rect x="1706.3" y="1129.5" width="42.9" height="4.6" fill="#111"/>
</g>
</svg>
</body></html>
